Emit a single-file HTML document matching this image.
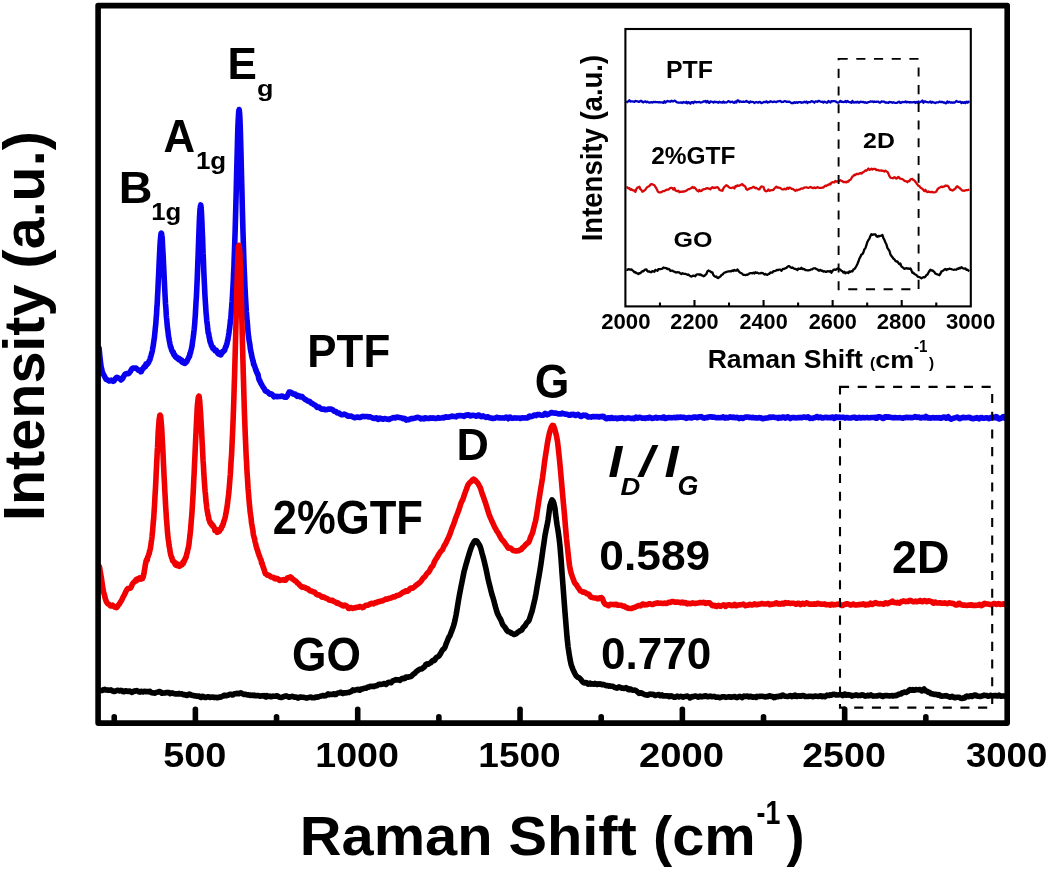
<!DOCTYPE html>
<html><head><meta charset="utf-8">
<style>
html,body{margin:0;padding:0;background:#fff;width:1050px;height:870px;overflow:hidden}
svg{display:block}
svg{will-change:transform}
text{font-family:"Liberation Sans",sans-serif;font-weight:bold;fill:#000}
</style></head>
<body>
<svg width="1050" height="870" viewBox="0 0 1050 870">
<rect x="0" y="0" width="1050" height="870" fill="#fff"/>
<!-- curves -->
<g fill="none" stroke-width="5.6" stroke-linejoin="round" stroke-linecap="round">
<path d="M99.10,348.13 L100.10,358.93 L101.10,366.71 L102.10,370.76 L103.10,373.89 L104.10,375.46 L105.10,377.45 L106.10,379.35 L107.10,379.71 L108.10,380.32 L109.10,381.01 L110.10,380.63 L111.10,380.19 L112.10,380.85 L113.10,381.35 L114.10,380.75 L115.10,379.11 L116.10,377.83 L117.10,377.23 L118.10,377.95 L119.10,378.21 L120.10,379.03 L121.10,379.97 L122.10,379.14 L123.10,377.64 L124.10,375.59 L125.10,374.14 L126.10,373.72 L127.10,373.44 L128.10,373.68 L129.10,373.20 L130.10,371.81 L131.10,370.15 L132.10,368.59 L133.10,368.13 L134.10,368.24 L135.10,368.01 L136.10,368.03 L137.10,369.11 L138.10,370.10 L139.10,370.53 L140.10,370.71 L140.30,370.59 L140.50,371.44 L140.70,371.68 L140.90,370.86 L141.10,370.79 L141.30,371.53 L141.50,371.31 L141.70,370.61 L141.90,370.42 L142.10,369.83 L142.30,369.07 L142.50,368.77 L142.70,368.75 L142.90,368.73 L143.10,368.74 L143.30,368.52 L143.50,368.02 L143.70,367.69 L143.90,367.05 L144.10,366.88 L144.30,367.03 L144.50,366.28 L144.70,366.06 L144.90,365.94 L145.10,365.98 L145.30,366.34 L145.50,366.53 L145.70,365.44 L145.90,364.12 L146.10,364.28 L146.30,364.66 L146.50,364.97 L146.70,364.87 L146.90,363.78 L147.10,363.41 L147.30,364.15 L147.50,364.12 L147.70,363.87 L147.90,363.48 L148.10,362.89 L148.30,362.72 L148.50,362.57 L148.70,362.20 L148.90,361.69 L149.10,360.97 L149.30,360.60 L149.50,360.38 L149.70,360.12 L149.90,359.95 L150.10,359.09 L150.30,358.01 L150.50,357.14 L150.70,356.77 L150.90,356.34 L151.10,355.40 L151.30,354.66 L151.50,353.81 L151.70,353.23 L151.90,352.44 L152.10,351.73 L152.30,351.08 L152.50,349.90 L152.70,348.39 L152.90,347.17 L153.10,346.63 L153.30,345.07 L153.50,343.48 L153.70,342.47 L153.90,340.71 L154.10,339.32 L154.30,338.48 L154.50,336.44 L154.70,334.54 L154.90,332.55 L155.10,330.48 L155.30,328.32 L155.50,326.52 L155.70,324.88 L155.90,322.09 L156.10,319.14 L156.30,316.86 L156.50,314.90 L156.70,310.88 L156.90,307.49 L157.10,305.30 L157.30,301.53 L157.50,296.98 L157.70,293.37 L157.90,289.76 L158.10,285.22 L158.30,280.69 L158.50,276.77 L158.70,273.07 L158.90,268.30 L159.10,263.82 L159.30,259.32 L159.50,255.18 L159.70,251.51 L159.90,247.38 L160.10,243.82 L160.30,241.04 L160.50,238.63 L160.70,236.34 L160.90,234.53 L161.10,233.36 L161.30,233.13 L161.50,233.43 L161.70,234.36 L161.90,235.72 L162.10,236.83 L162.30,239.91 L162.50,244.52 L162.70,247.81 L162.90,250.87 L163.10,254.72 L163.30,258.92 L163.50,263.28 L163.70,267.30 L163.90,271.47 L164.10,275.80 L164.30,280.25 L164.50,284.58 L164.70,288.62 L164.90,292.48 L165.10,296.30 L165.30,299.92 L165.50,303.64 L165.70,306.12 L165.90,308.20 L166.10,311.95 L166.30,315.66 L166.50,317.82 L166.70,319.41 L166.90,321.67 L167.10,324.21 L167.30,326.19 L167.50,327.86 L167.70,329.62 L167.90,330.66 L168.10,332.44 L168.30,334.50 L168.50,336.21 L168.70,337.33 L168.90,337.95 L169.10,339.33 L169.30,340.71 L169.50,341.66 L169.70,342.54 L169.90,343.75 L170.10,344.77 L170.30,345.84 L170.50,346.86 L170.70,347.20 L170.90,347.01 L171.10,347.65 L171.30,348.94 L171.50,349.60 L171.70,350.36 L171.90,350.50 L172.10,350.93 L172.30,351.36 L172.50,352.18 L172.70,352.36 L172.90,351.56 L173.10,351.84 L173.30,352.49 L173.50,353.01 L173.70,354.27 L173.90,354.84 L174.10,354.07 L174.30,354.82 L174.50,355.33 L174.70,354.83 L174.90,355.54 L175.10,356.38 L175.30,356.17 L175.50,356.63 L175.70,357.01 L175.90,357.27 L176.10,357.57 L176.30,357.71 L176.50,357.75 L176.70,357.00 L176.90,357.90 L177.10,358.26 L177.30,357.55 L177.50,357.65 L177.70,357.80 L177.90,358.27 L178.10,358.56 L178.30,358.86 L178.50,359.54 L178.70,359.45 L178.90,358.64 L179.10,358.46 L179.30,358.80 L179.50,358.81 L179.70,359.45 L179.90,359.98 L180.10,359.77 L180.30,360.07 L180.50,359.86 L180.70,359.72 L180.90,360.51 L181.10,361.11 L181.30,360.86 L181.35,361.27 L181.50,361.06 L181.55,360.39 L181.70,360.81 L181.75,360.05 L181.90,360.84 L181.95,361.90 L182.10,361.03 L182.15,361.60 L182.35,362.27 L182.55,361.89 L182.75,361.65 L182.95,361.69 L183.10,361.51 L183.15,361.77 L183.35,362.28 L183.55,362.20 L183.75,362.83 L183.95,362.99 L184.10,362.76 L184.15,362.78 L184.35,362.53 L184.55,362.76 L184.75,363.53 L184.95,363.51 L185.10,363.28 L185.15,362.74 L185.35,362.11 L185.55,361.83 L185.75,362.37 L185.95,362.58 L186.10,362.47 L186.15,362.24 L186.35,361.40 L186.55,361.43 L186.75,361.59 L186.95,361.29 L187.10,360.83 L187.15,360.74 L187.35,360.40 L187.55,359.70 L187.75,359.30 L187.95,359.23 L188.10,358.88 L188.15,359.00 L188.35,358.38 L188.55,357.75 L188.75,357.41 L188.95,357.08 L189.10,357.05 L189.15,356.47 L189.35,355.87 L189.55,356.28 L189.75,355.01 L189.95,353.44 L190.10,353.14 L190.15,353.15 L190.35,353.27 L190.55,352.63 L190.75,351.11 L190.95,350.49 L191.10,349.88 L191.15,349.83 L191.35,349.22 L191.55,348.36 L191.75,347.04 L191.95,346.51 L192.10,346.16 L192.15,345.11 L192.35,343.65 L192.55,341.95 L192.75,340.37 L192.95,339.17 L193.10,338.09 L193.15,337.85 L193.35,336.28 L193.55,334.73 L193.75,333.56 L193.95,331.27 L194.10,329.88 L194.15,329.52 L194.35,327.42 L194.55,325.41 L194.75,323.04 L194.95,320.07 L195.10,317.69 L195.15,317.80 L195.35,314.81 L195.55,310.67 L195.75,307.05 L195.95,303.52 L196.10,300.80 L196.15,300.56 L196.35,297.86 L196.55,293.84 L196.75,289.30 L196.95,284.95 L197.10,281.36 L197.15,280.15 L197.35,275.21 L197.55,270.32 L197.75,264.72 L197.95,259.47 L198.10,256.00 L198.15,254.22 L198.35,248.57 L198.55,242.78 L198.75,236.79 L198.95,231.65 L199.10,227.86 L199.15,226.40 L199.35,221.41 L199.55,216.99 L199.75,213.68 L199.95,210.05 L200.10,207.96 L200.15,207.98 L200.35,206.47 L200.55,205.96 L200.75,204.94 L200.95,205.95 L201.10,208.26 L201.15,208.61 L201.35,210.97 L201.55,214.55 L201.75,218.49 L201.95,223.23 L202.10,227.12 L202.15,228.46 L202.35,233.12 L202.55,237.16 L202.75,243.04 L202.95,249.31 L203.10,253.14 L203.15,253.70 L203.35,258.84 L203.55,264.69 L203.75,269.77 L203.95,274.32 L204.10,277.79 L204.15,278.65 L204.35,282.90 L204.55,286.89 L204.75,291.57 L204.95,295.58 L205.10,297.81 L205.15,298.49 L205.35,301.88 L205.55,304.70 L205.75,307.65 L205.95,310.97 L206.10,313.29 L206.15,313.50 L206.35,315.24 L206.55,318.03 L206.75,320.52 L206.95,322.24 L207.10,323.27 L207.15,323.16 L207.35,324.60 L207.55,327.07 L207.75,329.23 L207.95,330.42 L208.10,331.75 L208.15,332.74 L208.35,333.32 L208.55,333.15 L208.75,333.71 L208.95,335.28 L209.10,336.97 L209.15,337.56 L209.35,337.44 L209.55,338.14 L209.75,340.16 L209.95,340.88 L210.10,340.66 L210.15,341.63 L210.35,342.57 L210.55,342.39 L210.75,343.09 L210.95,343.82 L211.10,343.97 L211.15,344.49 L211.35,345.49 L211.55,345.85 L211.75,345.90 L211.95,346.42 L212.10,346.73 L212.15,346.61 L212.35,347.33 L212.55,347.79 L212.75,348.37 L212.95,348.56 L213.10,347.65 L213.15,347.20 L213.35,348.45 L213.55,348.97 L213.75,348.90 L213.95,348.95 L214.10,349.30 L214.15,349.51 L214.35,349.85 L214.55,349.98 L214.75,350.03 L214.95,350.57 L215.10,350.08 L215.15,350.25 L215.35,350.32 L215.55,349.82 L215.75,350.45 L215.95,350.61 L216.10,350.25 L216.15,350.37 L216.35,350.38 L216.55,351.01 L216.75,351.74 L216.95,351.61 L217.10,351.56 L217.15,351.80 L217.35,352.67 L217.55,353.07 L217.75,352.61 L217.95,352.84 L218.10,353.16 L218.15,352.91 L218.35,353.79 L218.55,353.94 L218.75,353.37 L218.95,353.02 L219.10,352.81 L219.15,353.62 L219.35,353.91 L219.55,353.96 L219.75,353.83 L219.95,353.42 L220.10,353.99 L220.15,354.70 L220.35,354.65 L220.55,354.52 L220.75,354.83 L220.95,354.71 L221.10,353.79 L221.15,353.40 L221.35,353.80 L221.55,353.59 L221.75,353.40 L221.95,352.88 L222.10,352.35 L222.15,352.99 L222.35,352.36 L222.55,351.64 L222.75,352.15 L222.95,351.72 L223.10,351.56 L223.15,351.80 L223.35,351.42 L223.55,351.32 L223.75,351.17 L223.95,350.75 L224.10,350.46 L224.15,350.36 L224.35,350.15 L224.55,350.50 L224.75,349.97 L224.95,349.04 L225.10,348.26 L225.15,348.31 L225.35,347.96 L225.55,346.95 L225.75,346.84 L225.95,346.58 L226.10,346.31 L226.15,346.56 L226.35,345.39 L226.55,344.29 L226.75,344.33 L226.95,343.85 L227.10,342.93 L227.15,342.84 L227.35,341.58 L227.55,340.49 L227.75,340.22 L227.95,339.58 L228.10,338.10 L228.15,337.23 L228.35,336.55 L228.55,335.41 L228.75,333.97 L228.95,333.03 L229.10,332.06 L229.15,330.92 L229.35,329.76 L229.55,328.74 L229.75,326.84 L229.95,324.84 L230.10,324.13 L230.15,323.48 L230.35,320.78 L230.55,319.50 L230.75,318.43 L230.95,316.82 L231.10,314.37 L231.15,313.31 L231.35,310.82 L231.55,308.69 L231.75,306.05 L231.95,302.86 L232.10,301.47 L232.15,300.68 L232.35,297.69 L232.55,294.16 L232.75,290.29 L232.95,287.14 L233.10,284.06 L233.15,283.23 L233.35,279.31 L233.55,273.95 L233.75,270.43 L233.95,266.30 L234.10,261.22 L234.15,259.24 L234.35,253.82 L234.55,248.43 L234.75,242.64 L234.95,236.65 L235.10,232.16 L235.15,230.42 L235.35,223.17 L235.55,216.16 L235.75,208.61 L235.95,200.89 L236.10,195.51 L236.15,193.87 L236.35,185.44 L236.55,176.87 L236.75,169.09 L236.95,161.92 L237.10,156.11 L237.15,154.38 L237.35,146.66 L237.55,139.03 L237.75,131.85 L237.95,125.61 L238.10,122.30 L238.15,121.42 L238.35,117.65 L238.55,114.03 L238.75,111.50 L238.95,110.36 L239.10,109.93 L239.15,109.62 L239.35,110.68 L239.55,112.56 L239.75,115.43 L239.95,119.65 L240.10,123.06 L240.15,124.24 L240.35,130.14 L240.55,137.30 L240.75,144.57 L240.95,151.58 L241.10,157.96 L241.15,160.50 L241.35,168.43 L241.55,176.75 L241.75,184.40 L241.95,191.65 L242.10,197.59 L242.15,200.60 L242.35,208.39 L242.55,215.88 L242.75,223.40 L242.95,230.38 L243.10,235.14 L243.15,237.07 L243.35,244.20 L243.55,250.37 L243.75,256.41 L243.95,262.06 L244.10,266.05 L244.15,267.36 L244.35,272.03 L244.55,276.32 L244.75,281.66 L244.95,286.38 L245.10,289.21 L245.15,290.18 L245.35,294.36 L245.55,297.96 L245.75,301.50 L245.95,304.75 L246.10,306.85 L246.15,308.25 L246.35,311.74 L246.55,313.93 L246.75,316.58 L246.95,319.18 L247.10,321.00 L247.15,321.33 L247.35,323.06 L247.55,325.73 L247.75,328.16 L247.95,330.80 L248.10,332.60 L248.15,333.12 L248.35,335.05 L248.55,336.20 L248.75,337.40 L248.95,339.44 L249.10,340.69 L249.15,340.67 L249.35,341.69 L249.55,343.11 L249.75,343.98 L249.95,345.16 L250.10,346.68 L250.15,347.36 L250.35,348.72 L250.55,349.53 L250.75,351.23 L250.95,352.06 L251.10,352.49 L251.15,352.47 L251.35,353.38 L251.55,355.09 L251.75,356.26 L251.95,356.72 L252.10,357.19 L252.15,357.80 L252.35,358.52 L252.55,359.28 L252.75,360.22 L252.95,361.06 L253.10,361.14 L253.15,360.80 L253.35,362.65 L253.55,364.36 L253.75,363.77 L253.95,363.96 L254.10,365.10 L254.15,365.35 L254.35,365.82 L254.55,365.89 L254.75,366.38 L254.95,367.11 L255.10,367.64 L255.15,367.85 L255.35,368.32 L255.55,369.29 L255.75,370.26 L255.95,370.08 L256.10,369.91 L256.15,370.17 L256.35,371.22 L256.55,371.95 L256.75,372.52 L256.95,372.86 L257.10,372.75 L257.15,372.59 L257.35,373.47 L257.55,374.28 L257.75,373.95 L257.95,374.52 L258.10,374.77 L258.15,375.13 L258.35,376.64 L258.55,377.48 L258.75,378.66 L258.95,379.18 L259.10,379.46 L259.15,379.82 L259.35,380.10 L259.55,379.85 L259.75,380.67 L259.95,381.60 L260.10,381.61 L260.15,381.46 L260.35,381.94 L260.55,382.76 L260.75,383.04 L261.10,383.56 L262.10,385.43 L263.10,387.17 L264.10,388.42 L265.10,390.55 L266.10,391.45 L267.10,391.48 L268.10,392.40 L269.10,393.48 L270.10,394.27 L271.10,393.88 L272.10,394.28 L273.10,395.67 L274.10,396.82 L275.10,396.62 L276.10,396.33 L277.10,396.80 L278.10,396.56 L279.10,396.48 L280.10,396.43 L281.10,396.19 L282.10,396.00 L283.10,396.60 L284.10,397.09 L285.10,397.25 L286.10,397.28 L287.10,396.17 L288.10,394.18 L289.10,392.10 L290.10,391.93 L291.10,392.49 L292.10,393.05 L293.10,394.06 L294.10,394.30 L295.10,393.97 L296.10,395.37 L297.10,396.32 L298.10,395.52 L299.10,395.84 L300.10,396.87 L301.10,396.38 L302.10,396.57 L303.10,397.68 L304.10,398.53 L305.10,399.42 L306.10,399.86 L307.10,400.58 L308.10,401.22 L309.10,401.35 L310.10,401.83 L311.10,402.99 L312.10,403.34 L313.10,404.00 L314.10,404.84 L315.10,405.10 L316.10,406.23 L317.10,407.36 L318.10,407.17 L319.10,407.08 L320.10,408.23 L321.10,408.72 L322.10,409.31 L323.10,409.04 L324.10,408.94 L325.10,409.73 L326.10,409.54 L327.10,409.65 L328.10,409.12 L329.10,409.02 L330.10,409.14 L331.10,409.04 L332.10,409.50 L333.10,410.11 L334.10,411.21 L335.10,411.26 L336.10,411.69 L337.10,412.72 L338.10,413.05 L339.10,413.13 L340.10,414.06 L341.10,414.60 L342.10,414.71 L343.10,414.65 L344.10,413.99 L345.10,414.40 L346.10,414.76 L347.10,415.71 L348.10,416.20 L349.10,416.09 L350.10,416.28 L351.10,416.15 L352.10,416.57 L353.10,417.12 L354.10,417.68 L355.10,417.72 L356.10,417.33 L357.10,417.01 L358.10,417.11 L359.10,417.49 L360.10,417.46 L361.10,417.06 L362.10,416.51 L363.10,416.40 L364.10,416.67 L365.10,416.57 L366.10,416.46 L367.10,416.50 L368.10,416.87 L369.10,416.91 L370.10,416.84 L371.10,417.30 L372.10,417.67 L373.10,418.23 L374.10,418.42 L375.10,418.34 L376.10,417.84 L377.10,418.02 L378.10,419.40 L379.10,419.07 L380.10,418.10 L381.10,418.37 L382.10,419.06 L383.10,419.29 L384.10,418.78 L385.10,418.54 L386.10,418.97 L387.10,419.12 L388.10,419.48 L389.10,419.48 L390.10,418.71 L391.10,418.47 L392.10,418.14 L393.10,417.52 L394.10,417.60 L395.10,417.99 L396.10,417.41 L397.10,417.03 L398.10,417.32 L399.10,417.57 L400.10,417.65 L401.10,417.86 L402.10,418.20 L403.10,418.68 L404.10,418.39 L405.10,418.86 L406.10,420.10 L407.10,419.73 L408.10,419.52 L409.10,419.62 L410.10,418.98 L411.10,418.57 L412.10,418.77 L413.10,418.52 L414.10,418.35 L415.10,418.08 L416.10,417.66 L417.10,417.40 L418.10,417.36 L419.10,417.62 L420.10,418.48 L421.10,418.91 L422.10,418.24 L423.10,418.45 L424.10,418.83 L425.10,417.75 L426.10,417.96 L427.10,418.42 L428.10,418.42 L429.10,418.57 L430.10,417.85 L431.10,418.25 L432.10,418.16 L433.10,417.77 L434.10,418.22 L435.10,418.47 L436.10,418.54 L437.10,418.22 L438.10,417.60 L439.10,418.12 L440.10,418.08 L441.10,417.93 L442.10,417.86 L443.10,417.54 L444.10,417.93 L445.10,417.11 L446.10,416.79 L447.10,417.28 L448.10,417.31 L449.10,416.93 L450.10,416.72 L451.10,416.58 L452.10,416.01 L453.10,416.38 L454.10,416.49 L455.10,416.53 L456.10,416.82 L457.10,416.00 L458.10,415.66 L459.10,415.78 L460.10,415.46 L461.10,415.64 L462.10,415.69 L463.10,415.98 L464.10,416.35 L465.10,415.47 L466.10,415.12 L467.10,415.28 L468.10,414.73 L469.10,415.07 L470.10,415.85 L471.10,415.83 L472.10,415.36 L473.10,415.40 L474.10,415.49 L475.10,415.49 L476.10,416.21 L477.10,416.05 L478.10,415.12 L479.10,415.10 L480.10,415.92 L481.10,416.59 L482.10,416.19 L483.10,415.91 L484.10,416.54 L485.10,416.93 L486.10,417.34 L487.10,417.08 L488.10,416.82 L489.10,417.62 L490.10,418.04 L491.10,418.00 L492.10,418.36 L493.10,418.35 L494.10,418.23 L495.10,418.15 L496.10,417.56 L497.10,417.24 L498.10,417.71 L499.10,418.06 L500.10,417.83 L501.10,417.99 L502.10,417.92 L503.10,417.85 L504.10,418.13 L505.10,417.83 L506.10,417.09 L507.10,417.83 L508.10,418.68 L509.10,417.34 L510.10,417.10 L511.10,418.10 L512.10,418.16 L513.10,418.22 L514.10,417.98 L515.10,417.85 L516.10,418.14 L517.10,418.03 L518.10,417.97 L519.10,418.09 L520.10,418.47 L521.10,418.23 L522.10,417.77 L523.10,417.93 L524.10,417.92 L525.10,417.86 L526.10,417.97 L527.10,418.08 L528.10,417.61 L529.10,416.24 L530.10,416.03 L531.10,416.66 L532.10,416.39 L533.10,416.00 L534.10,415.06 L535.10,415.07 L536.10,415.57 L537.10,414.75 L538.10,414.43 L539.10,414.51 L540.10,414.86 L541.10,415.18 L542.10,415.34 L543.10,415.23 L544.10,414.17 L545.10,413.37 L546.10,414.04 L547.10,414.88 L548.10,414.32 L549.10,413.88 L550.10,413.37 L551.10,412.47 L552.10,412.49 L553.10,412.94 L554.10,413.09 L555.10,413.09 L556.10,413.07 L557.10,413.36 L558.10,413.99 L559.10,413.82 L560.10,414.06 L561.10,413.91 L562.10,413.16 L563.10,413.59 L564.10,413.75 L565.10,414.12 L566.10,414.15 L567.10,414.32 L568.10,414.72 L569.10,415.26 L570.10,415.18 L571.10,414.41 L572.10,414.74 L573.10,414.22 L574.10,414.48 L575.10,415.45 L576.10,415.38 L577.10,414.81 L578.10,414.36 L579.10,415.14 L580.10,416.11 L581.10,416.52 L582.10,415.93 L583.10,415.16 L584.10,415.45 L585.10,415.22 L586.10,415.20 L587.10,416.20 L588.10,417.00 L589.10,416.89 L590.10,416.97 L591.10,417.08 L592.10,416.69 L593.10,416.57 L594.10,416.64 L595.10,416.69 L596.10,416.65 L597.10,416.59 L598.10,416.78 L599.10,417.07 L600.10,416.57 L601.10,416.55 L602.10,416.81 L603.10,416.30 L604.10,416.80 L605.10,418.04 L606.10,418.72 L607.10,418.79 L608.10,417.81 L609.10,417.75 L610.10,418.46 L611.10,417.50 L612.10,417.48 L613.10,418.38 L614.10,418.20 L615.10,418.14 L616.10,418.14 L617.10,418.61 L618.10,418.48 L619.10,417.90 L620.10,418.04 L621.10,418.19 L622.10,417.62 L623.10,417.98 L624.10,418.62 L625.10,418.35 L626.10,418.34 L627.10,418.09 L628.10,417.91 L629.10,418.00 L630.10,418.16 L631.10,418.49 L632.10,418.55 L633.10,418.13 L634.10,418.65 L635.10,418.28 L636.10,417.19 L637.10,417.71 L638.10,418.07 L639.10,417.37 L640.10,417.33 L641.10,417.67 L642.10,418.13 L643.10,418.15 L644.10,418.11 L645.10,418.45 L646.10,418.04 L647.10,417.88 L648.10,418.08 L649.10,417.31 L650.10,417.27 L651.10,417.89 L652.10,418.35 L653.10,418.24 L654.10,418.02 L655.10,417.41 L656.10,417.30 L657.10,418.19 L658.10,417.83 L659.10,417.69 L660.10,417.68 L661.10,417.84 L662.10,417.87 L663.10,417.15 L664.10,417.12 L665.10,418.41 L666.10,418.47 L667.10,417.83 L668.10,417.67 L669.10,417.62 L670.10,417.81 L671.10,417.65 L672.10,417.87 L673.10,417.64 L674.10,417.31 L675.10,417.76 L676.10,417.71 L677.10,417.14 L678.10,417.40 L679.10,417.47 L680.10,417.13 L681.10,417.17 L682.10,417.27 L683.10,417.40 L684.10,417.27 L685.10,417.62 L686.10,418.34 L687.10,418.00 L688.10,417.59 L689.10,417.59 L690.10,417.44 L691.10,417.92 L692.10,417.90 L693.10,417.27 L694.10,417.01 L695.10,417.07 L696.10,417.30 L697.10,417.78 L698.10,417.34 L699.10,416.72 L700.10,416.86 L701.10,416.63 L702.10,417.36 L703.10,417.92 L704.10,418.10 L705.10,417.65 L706.10,417.46 L707.10,417.69 L708.10,417.14 L709.10,417.05 L710.10,416.87 L711.10,416.76 L712.10,417.14 L713.10,417.14 L714.10,416.99 L715.10,417.42 L716.10,417.71 L717.10,417.75 L718.10,417.64 L719.10,417.77 L720.10,417.66 L721.10,417.61 L722.10,417.30 L723.10,416.93 L724.10,417.86 L725.10,418.11 L726.10,417.26 L727.10,417.72 L728.10,417.90 L729.10,417.24 L730.10,416.82 L731.10,417.28 L732.10,417.40 L733.10,416.97 L734.10,417.53 L735.10,417.77 L736.10,417.53 L737.10,417.40 L738.10,417.80 L739.10,418.59 L740.10,418.04 L741.10,417.51 L742.10,418.31 L743.10,418.47 L744.10,417.63 L745.10,417.14 L746.10,417.17 L747.10,417.01 L748.10,417.00 L749.10,417.38 L750.10,417.39 L751.10,417.59 L752.10,417.82 L753.10,417.41 L754.10,417.66 L755.10,417.89 L756.10,417.69 L757.10,417.92 L758.10,418.02 L759.10,417.65 L760.10,417.77 L761.10,417.90 L762.10,418.55 L763.10,418.80 L764.10,418.23 L765.10,418.29 L766.10,417.94 L767.10,417.95 L768.10,417.93 L769.10,417.24 L770.10,417.05 L771.10,417.49 L772.10,417.16 L773.10,417.06 L774.10,417.33 L775.10,417.50 L776.10,417.49 L777.10,417.86 L778.10,418.36 L779.10,417.34 L780.10,417.66 L781.10,418.00 L782.10,417.19 L783.10,416.93 L784.10,417.35 L785.10,418.17 L786.10,417.80 L787.10,416.99 L788.10,416.81 L789.10,417.62 L790.10,418.53 L791.10,417.93 L792.10,417.56 L793.10,417.67 L794.10,417.48 L795.10,417.79 L796.10,417.96 L797.10,417.75 L798.10,417.51 L799.10,417.67 L800.10,417.67 L801.10,417.42 L802.10,417.59 L803.10,417.18 L804.10,417.01 L805.10,417.30 L806.10,417.43 L807.10,417.17 L808.10,416.75 L809.10,417.64 L810.10,418.40 L811.10,418.16 L812.10,418.38 L813.10,418.23 L814.10,417.61 L815.10,417.63 L816.10,417.05 L817.10,416.53 L818.10,417.39 L819.10,417.76 L820.10,417.10 L821.10,417.30 L822.10,418.04 L823.10,418.04 L824.10,417.71 L825.10,417.22 L826.10,417.26 L827.10,417.67 L828.10,417.52 L829.10,417.58 L830.10,417.80 L831.10,417.71 L832.10,416.95 L833.10,417.19 L834.10,418.41 L835.10,417.93 L836.10,416.89 L837.10,417.23 L838.10,417.56 L839.10,417.04 L840.10,417.58 L841.10,417.45 L842.10,417.28 L843.10,417.33 L844.10,417.57 L845.10,418.14 L846.10,417.58 L847.10,417.46 L848.10,417.74 L849.10,417.96 L850.10,418.04 L851.10,417.94 L852.10,417.52 L853.10,417.56 L854.10,417.29 L855.10,417.40 L856.10,418.11 L857.10,418.23 L858.10,417.76 L859.10,417.37 L860.10,417.84 L861.10,417.88 L862.10,417.46 L863.10,417.46 L864.10,417.62 L865.10,417.84 L866.10,417.62 L867.10,417.41 L868.10,417.70 L869.10,417.84 L870.10,417.72 L871.10,417.52 L872.10,417.52 L873.10,417.49 L874.10,417.51 L875.10,417.40 L876.10,418.31 L877.10,418.14 L878.10,416.85 L879.10,416.86 L880.10,417.01 L881.10,417.27 L882.10,417.97 L883.10,418.51 L884.10,418.12 L885.10,416.77 L886.10,416.81 L887.10,417.20 L888.10,416.91 L889.10,416.96 L890.10,417.26 L891.10,417.43 L892.10,417.55 L893.10,417.90 L894.10,417.58 L895.10,417.45 L896.10,417.82 L897.10,417.68 L898.10,417.68 L899.10,417.79 L900.10,417.58 L901.10,417.85 L902.10,418.19 L903.10,418.10 L904.10,417.69 L905.10,417.75 L906.10,417.24 L907.10,417.53 L908.10,417.61 L909.10,417.37 L910.10,417.62 L911.10,417.49 L912.10,417.64 L913.10,417.57 L914.10,417.35 L915.10,416.55 L916.10,416.95 L917.10,417.46 L918.10,417.12 L919.10,417.08 L920.10,417.93 L921.10,417.98 L922.10,417.45 L923.10,417.26 L924.10,417.65 L925.10,417.85 L926.10,416.52 L927.10,417.58 L928.10,418.07 L929.10,417.62 L930.10,418.22 L931.10,418.01 L932.10,417.70 L933.10,417.55 L934.10,418.03 L935.10,417.87 L936.10,417.56 L937.10,417.96 L938.10,417.91 L939.10,417.48 L940.10,417.93 L941.10,418.18 L942.10,417.67 L943.10,417.31 L944.10,417.03 L945.10,417.58 L946.10,418.22 L947.10,417.23 L948.10,416.73 L949.10,417.75 L950.10,418.74 L951.10,419.13 L952.10,418.65 L953.10,418.40 L954.10,417.93 L955.10,417.74 L956.10,417.52 L957.10,417.09 L958.10,417.60 L959.10,418.49 L960.10,418.64 L961.10,418.03 L962.10,417.74 L963.10,417.23 L964.10,417.48 L965.10,417.80 L966.10,417.69 L967.10,417.52 L968.10,417.49 L969.10,417.29 L970.10,417.42 L971.10,418.35 L972.10,418.49 L973.10,418.75 L974.10,418.57 L975.10,418.05 L976.10,418.12 L977.10,417.68 L978.10,418.21 L979.10,418.83 L980.10,418.06 L981.10,417.45 L982.10,417.72 L983.10,418.30 L984.10,418.16 L985.10,417.95 L986.10,417.85 L987.10,417.80 L988.10,418.30 L989.10,418.76 L990.10,417.85 L991.10,417.45 L992.10,417.55 L993.10,417.08 L994.10,417.67 L995.10,417.83 L996.10,416.63 L997.10,417.12 L998.10,418.56 L999.10,419.02 L1000.10,418.48 L1001.10,418.30 L1002.10,417.58 L1003.10,416.78 L1004.10,417.81 L1005.10,418.31 L1006.10,418.57 L1007.00,418.74" stroke="#0a00f0"/>
<path d="M99.50,566.87 L100.50,572.99 L101.50,578.74 L102.50,586.09 L103.50,591.65 L104.50,595.20 L105.50,599.21 L106.50,601.97 L107.50,603.42 L108.50,604.08 L109.50,604.80 L110.50,605.95 L111.50,605.95 L112.50,605.22 L113.50,606.09 L114.50,607.00 L115.50,607.27 L116.50,607.68 L117.50,606.59 L118.50,605.01 L119.50,603.70 L120.50,602.05 L121.50,600.56 L122.50,598.36 L123.50,596.32 L124.50,594.55 L125.50,592.41 L126.50,590.33 L127.50,588.86 L128.50,588.38 L129.50,588.09 L130.50,588.11 L131.50,586.34 L132.50,583.75 L133.50,582.57 L134.50,581.69 L135.50,581.04 L135.60,580.26 L135.80,579.97 L136.00,580.28 L136.20,580.06 L136.40,580.01 L136.50,579.45 L136.60,579.70 L136.80,580.65 L137.00,579.87 L137.20,579.48 L137.40,579.50 L137.50,578.98 L137.60,578.94 L137.80,579.43 L138.00,579.18 L138.20,578.65 L138.40,578.65 L138.50,578.87 L138.60,579.28 L138.80,578.88 L139.00,578.59 L139.20,578.85 L139.40,578.08 L139.50,577.88 L139.60,578.44 L139.80,578.58 L140.00,578.75 L140.20,578.13 L140.40,578.07 L140.50,578.52 L140.60,578.05 L140.80,578.46 L141.00,579.17 L141.20,578.79 L141.40,578.81 L141.50,578.88 L141.60,578.61 L141.80,578.33 L142.00,578.75 L142.20,578.15 L142.40,577.49 L142.50,578.49 L142.60,577.77 L142.80,577.14 L143.00,577.25 L143.20,576.91 L143.40,576.54 L143.50,575.69 L143.60,574.37 L143.80,573.93 L144.00,573.67 L144.20,571.93 L144.40,570.45 L144.50,570.12 L144.60,569.58 L144.80,568.30 L145.00,567.36 L145.20,565.56 L145.40,564.32 L145.50,564.47 L145.60,563.55 L145.80,562.84 L146.00,561.29 L146.20,560.55 L146.40,560.83 L146.50,559.86 L146.60,559.67 L146.80,559.58 L147.00,559.90 L147.20,560.20 L147.40,559.09 L147.50,558.04 L147.60,557.49 L147.80,557.15 L148.00,556.66 L148.20,555.95 L148.40,555.39 L148.50,555.30 L148.60,555.02 L148.80,554.26 L149.00,553.45 L149.20,553.79 L149.40,552.85 L149.50,551.30 L149.60,551.50 L149.80,550.86 L150.00,549.93 L150.20,549.31 L150.40,548.52 L150.50,547.96 L150.60,546.66 L150.80,545.58 L151.00,544.05 L151.20,542.30 L151.40,541.26 L151.50,540.20 L151.60,539.77 L151.80,538.42 L152.00,536.82 L152.20,534.57 L152.40,532.57 L152.50,532.19 L152.60,530.92 L152.80,528.13 L153.00,525.72 L153.20,523.27 L153.40,520.15 L153.50,520.40 L153.60,520.04 L153.80,516.78 L154.00,513.42 L154.20,510.04 L154.40,507.25 L154.50,505.59 L154.60,503.71 L154.80,500.05 L155.00,495.86 L155.20,492.50 L155.40,489.57 L155.50,487.83 L155.60,485.68 L155.80,481.95 L156.00,477.90 L156.20,472.86 L156.40,469.18 L156.50,467.36 L156.60,464.57 L156.80,460.58 L157.00,457.05 L157.20,452.94 L157.40,448.76 L157.50,447.99 L157.60,446.10 L157.80,441.37 L158.00,436.70 L158.20,432.75 L158.40,430.28 L158.50,428.46 L158.60,426.41 L158.80,423.85 L159.00,421.54 L159.20,419.10 L159.40,417.84 L159.50,417.75 L159.60,416.87 L159.80,415.42 L160.00,415.06 L160.20,415.51 L160.40,416.04 L160.50,415.71 L160.60,415.93 L160.80,417.89 L161.00,420.00 L161.20,422.38 L161.40,424.97 L161.50,425.70 L161.60,426.70 L161.80,429.84 L162.00,434.07 L162.20,438.16 L162.40,441.58 L162.50,443.82 L162.60,445.53 L162.80,448.90 L163.00,453.03 L163.20,457.56 L163.40,462.42 L163.50,464.86 L163.60,466.15 L163.80,470.30 L164.00,475.06 L164.20,478.63 L164.40,482.42 L164.50,484.17 L164.60,486.28 L164.80,490.67 L165.00,493.91 L165.20,497.47 L165.40,501.55 L165.50,503.33 L165.60,505.06 L165.80,508.74 L166.00,511.58 L166.20,514.37 L166.40,518.28 L166.50,519.85 L166.60,520.28 L166.80,522.95 L167.00,525.36 L167.20,528.15 L167.40,531.03 L167.50,532.13 L167.60,533.39 L167.80,535.25 L168.00,537.25 L168.20,539.05 L168.40,540.28 L168.50,540.73 L168.60,541.62 L168.80,542.70 L169.00,544.90 L169.20,546.53 L169.40,547.21 L169.50,547.95 L169.60,547.92 L169.80,549.45 L170.00,551.07 L170.20,552.04 L170.40,553.24 L170.50,553.54 L170.60,553.91 L170.80,555.09 L171.00,555.61 L171.20,556.07 L171.40,557.01 L171.50,557.43 L171.60,557.61 L171.80,557.41 L172.00,557.91 L172.20,559.31 L172.40,559.72 L172.50,559.93 L172.60,560.80 L172.80,561.13 L173.00,561.12 L173.20,561.18 L173.40,561.02 L173.50,561.30 L173.60,561.40 L173.80,561.85 L174.00,562.16 L174.10,562.23 L174.20,562.20 L174.30,561.84 L174.40,562.21 L174.50,562.51 L174.60,562.63 L174.70,562.89 L174.80,563.09 L174.90,563.72 L175.00,564.37 L175.10,564.36 L175.20,563.90 L175.30,564.23 L175.40,563.94 L175.50,562.88 L175.60,563.54 L175.70,564.27 L175.80,564.21 L175.90,564.29 L176.00,563.87 L176.10,563.55 L176.20,564.54 L176.30,565.31 L176.40,564.73 L176.50,565.08 L176.60,565.02 L176.70,564.26 L176.80,564.75 L176.90,564.59 L177.00,564.38 L177.10,564.75 L177.20,564.82 L177.30,565.19 L177.40,565.54 L177.50,564.94 L177.60,564.55 L177.70,564.99 L177.80,565.22 L177.90,564.93 L178.00,565.11 L178.10,565.64 L178.20,565.32 L178.30,565.32 L178.40,565.01 L178.50,564.25 L178.60,564.94 L178.70,565.20 L178.80,564.72 L178.90,564.91 L179.00,565.01 L179.10,565.20 L179.20,564.94 L179.30,564.71 L179.40,566.19 L179.50,566.33 L179.60,564.68 L179.70,564.82 L179.80,565.59 L179.90,565.82 L180.00,565.66 L180.10,564.97 L180.20,565.34 L180.30,565.75 L180.40,564.67 L180.50,564.63 L180.60,565.09 L180.70,565.16 L180.80,565.05 L180.90,564.89 L181.00,565.01 L181.10,564.88 L181.20,564.74 L181.30,564.35 L181.40,564.30 L181.50,564.56 L181.60,564.59 L181.70,564.82 L181.80,564.74 L181.90,564.33 L182.00,564.77 L182.10,564.49 L182.20,563.88 L182.30,563.56 L182.40,563.29 L182.50,563.90 L182.60,563.87 L182.70,563.68 L182.80,563.12 L182.90,562.07 L183.00,562.38 L183.10,562.25 L183.20,562.87 L183.30,563.57 L183.40,562.16 L183.50,561.55 L183.60,561.61 L183.70,561.64 L183.80,561.64 L183.90,561.64 L184.00,561.95 L184.10,561.40 L184.20,560.37 L184.30,560.43 L184.40,560.56 L184.50,560.55 L184.70,560.15 L184.90,559.61 L185.10,559.31 L185.30,558.50 L185.50,557.75 L185.70,557.51 L185.90,557.91 L186.10,557.36 L186.30,555.88 L186.50,555.18 L186.70,554.57 L186.90,553.20 L187.10,552.49 L187.30,552.59 L187.50,551.53 L187.70,549.76 L187.90,549.06 L188.10,548.99 L188.30,548.06 L188.50,546.66 L188.70,545.89 L188.90,544.81 L189.10,542.94 L189.30,540.92 L189.50,539.22 L189.70,537.66 L189.90,536.20 L190.10,534.16 L190.30,532.50 L190.50,530.84 L190.70,528.11 L190.90,526.12 L191.10,523.26 L191.30,520.29 L191.50,518.19 L191.70,516.04 L191.90,513.28 L192.10,510.55 L192.30,507.50 L192.50,504.02 L192.70,500.61 L192.90,497.37 L193.10,493.95 L193.30,490.05 L193.50,486.16 L193.70,481.72 L193.90,477.77 L194.10,474.34 L194.30,469.86 L194.50,464.71 L194.70,460.56 L194.90,456.88 L195.10,452.17 L195.30,447.25 L195.50,443.17 L195.70,438.78 L195.90,434.40 L196.10,430.56 L196.30,426.26 L196.50,421.78 L196.70,418.12 L196.90,414.45 L197.10,410.47 L197.30,407.02 L197.50,404.16 L197.70,402.65 L197.90,400.94 L198.10,398.86 L198.30,397.89 L198.50,396.64 L198.70,396.30 L198.90,396.58 L199.10,396.30 L199.30,397.45 L199.50,399.23 L199.70,401.03 L199.90,403.69 L200.10,407.06 L200.30,409.61 L200.50,411.89 L200.70,415.46 L200.90,419.05 L201.10,422.49 L201.30,425.81 L201.50,429.37 L201.70,433.52 L201.90,437.35 L202.10,441.09 L202.30,444.94 L202.50,449.36 L202.70,453.07 L202.90,457.05 L203.10,461.00 L203.30,463.60 L203.50,466.87 L203.70,470.82 L203.90,474.78 L204.10,477.39 L204.30,480.18 L204.50,483.30 L204.70,485.89 L204.90,488.63 L205.10,491.48 L205.30,493.21 L205.50,494.53 L205.70,497.37 L205.90,500.11 L206.10,502.19 L206.30,503.47 L206.50,504.64 L206.70,507.29 L206.90,508.68 L207.10,509.70 L207.30,511.17 L207.50,512.14 L207.70,513.09 L207.90,514.65 L208.10,515.46 L208.30,515.59 L208.50,516.75 L208.70,518.29 L208.90,519.39 L209.10,519.89 L209.30,520.39 L209.50,520.81 L209.70,521.48 L209.90,522.37 L210.10,522.73 L210.30,522.15 L210.50,522.80 L210.70,523.64 L210.90,523.21 L211.10,523.41 L211.30,523.70 L211.50,524.67 L211.70,525.09 L211.90,523.96 L212.10,524.35 L212.30,524.92 L212.50,525.47 L212.70,526.05 L212.90,525.36 L213.10,525.49 L213.30,526.06 L213.50,526.34 L213.70,526.87 L213.90,526.85 L214.10,527.52 L214.30,528.28 L214.50,528.31 L214.70,529.22 L214.90,530.48 L215.10,530.38 L215.30,530.67 L215.50,530.50 L215.70,530.35 L215.90,531.04 L216.10,531.01 L216.30,530.99 L216.50,530.89 L216.70,531.13 L216.90,531.23 L217.10,531.46 L217.30,532.31 L217.50,531.95 L217.70,531.11 L217.90,530.70 L218.10,529.87 L218.30,530.80 L218.50,531.09 L218.70,530.29 L218.90,530.60 L219.10,530.99 L219.30,530.93 L219.50,531.07 L219.70,530.72 L219.90,529.32 L220.10,529.21 L220.30,529.60 L220.50,529.04 L220.70,528.62 L220.90,528.41 L221.10,528.76 L221.30,528.43 L221.50,527.07 L221.70,526.99 L221.90,526.46 L222.10,526.10 L222.30,526.39 L222.50,525.52 L222.70,524.73 L222.90,524.30 L223.10,524.48 L223.30,524.24 L223.50,522.75 L223.70,521.61 L223.90,521.33 L224.10,521.05 L224.30,520.13 L224.50,519.49 L224.70,518.90 L224.90,518.35 L225.10,517.71 L225.30,516.45 L225.50,515.43 L225.70,514.21 L225.90,513.44 L226.10,512.80 L226.30,511.27 L226.50,510.03 L226.70,508.79 L226.90,508.29 L227.10,507.00 L227.30,504.99 L227.50,503.81 L227.70,501.88 L227.90,500.19 L228.10,498.69 L228.30,497.05 L228.50,495.43 L228.70,493.71 L228.90,491.90 L229.10,489.45 L229.30,486.87 L229.50,484.54 L229.70,482.06 L229.90,479.20 L230.10,477.07 L230.30,474.88 L230.50,471.76 L230.70,468.26 L230.90,464.72 L231.10,461.16 L231.30,458.17 L231.50,455.60 L231.70,452.06 L231.90,447.87 L232.10,443.20 L232.30,438.91 L232.50,434.74 L232.70,430.25 L232.90,425.56 L233.10,420.10 L233.30,414.47 L233.50,409.18 L233.70,403.52 L233.90,397.19 L234.10,390.06 L234.30,383.40 L234.50,377.65 L234.70,370.98 L234.90,363.90 L235.10,356.44 L235.30,348.70 L235.50,341.48 L235.70,334.00 L235.90,326.13 L236.10,318.52 L236.30,311.12 L236.50,303.62 L236.70,295.22 L236.90,287.41 L237.10,280.95 L237.30,274.49 L237.50,268.04 L237.70,263.09 L237.90,258.44 L238.10,253.90 L238.30,250.05 L238.50,247.27 L238.70,246.25 L238.90,245.29 L239.10,245.69 L239.30,247.75 L239.50,249.11 L239.70,250.81 L239.90,255.22 L240.10,260.00 L240.30,264.36 L240.50,269.41 L240.70,275.95 L240.90,283.10 L241.10,290.42 L241.30,297.44 L241.50,304.49 L241.70,312.44 L241.90,320.30 L242.10,328.65 L242.30,336.90 L242.50,344.20 L242.70,351.66 L242.90,359.42 L243.10,367.21 L243.30,374.53 L243.50,380.98 L243.70,387.83 L243.90,394.85 L244.10,401.72 L244.30,408.38 L244.50,414.50 L244.70,419.99 L244.90,424.96 L245.10,430.36 L245.30,435.59 L245.50,440.11 L245.70,444.97 L245.90,449.81 L246.10,454.32 L246.30,458.03 L246.50,461.18 L246.70,465.43 L246.90,469.29 L247.10,472.93 L247.30,476.22 L247.50,478.90 L247.70,481.73 L247.90,485.52 L248.10,488.76 L248.30,490.77 L248.50,493.34 L248.70,495.77 L248.90,498.59 L249.10,500.99 L249.30,502.91 L249.50,505.38 L249.70,506.98 L249.90,508.91 L250.10,511.74 L250.30,512.74 L250.50,514.06 L250.70,515.77 L250.90,516.63 L251.10,518.33 L251.30,520.69 L251.50,522.67 L251.70,523.79 L251.90,524.62 L252.10,525.91 L252.30,527.24 L252.50,528.41 L252.70,529.05 L252.90,530.33 L253.10,532.19 L253.30,534.06 L253.50,535.37 L253.70,535.65 L253.90,536.44 L254.10,537.56 L254.30,538.25 L254.50,538.39 L254.70,539.27 L254.90,540.73 L255.10,541.85 L255.30,542.51 L255.50,542.98 L255.70,543.91 L255.90,544.98 L256.10,546.00 L256.30,546.63 L256.50,547.30 L256.70,547.75 L256.90,548.56 L257.10,549.53 L257.30,549.48 L257.50,550.06 L257.70,551.16 L257.90,551.51 L258.10,552.32 L258.30,553.15 L258.50,553.64 L258.70,554.00 L258.90,554.52 L259.10,555.63 L259.30,555.93 L259.50,556.17 L259.70,556.66 L259.90,557.35 L260.10,558.06 L260.30,558.65 L260.50,559.17 L260.70,559.17 L260.90,559.34 L261.10,560.20 L261.30,561.37 L261.50,562.86 L261.70,563.61 L261.90,563.30 L262.10,562.99 L262.30,563.97 L262.50,565.25 L262.70,565.31 L262.90,566.21 L263.10,567.20 L263.30,567.38 L263.50,567.33 L263.70,568.35 L263.90,569.55 L264.10,569.69 L264.30,569.87 L264.50,570.33 L264.70,571.51 L264.90,572.25 L265.10,572.91 L265.30,573.47 L265.50,573.29 L266.50,574.48 L267.50,575.19 L268.50,575.13 L269.50,575.51 L270.50,576.64 L271.50,577.04 L272.50,577.22 L273.50,577.52 L274.50,578.60 L275.50,578.91 L276.50,578.32 L277.50,578.72 L278.50,579.60 L279.50,580.46 L280.50,580.14 L281.50,580.07 L282.50,579.88 L283.50,579.49 L284.50,580.31 L285.50,580.25 L286.50,579.02 L287.50,577.95 L288.50,577.60 L289.50,577.45 L290.50,576.84 L291.50,577.68 L292.50,579.04 L293.50,579.58 L294.50,580.53 L295.50,580.84 L296.50,581.93 L297.50,583.07 L298.50,583.64 L299.50,584.93 L300.50,585.81 L301.50,586.92 L302.50,587.29 L303.50,587.10 L304.50,587.20 L305.50,587.97 L306.50,588.60 L307.50,588.62 L308.50,589.35 L309.50,590.52 L310.50,590.99 L311.50,590.93 L312.50,591.57 L313.50,591.99 L314.50,591.93 L315.50,593.27 L316.50,594.31 L317.50,594.94 L318.50,594.84 L319.50,595.00 L320.50,595.87 L321.50,596.85 L322.50,597.30 L323.50,596.74 L324.50,597.40 L325.50,598.05 L326.50,598.21 L327.50,598.88 L328.50,599.69 L329.50,600.11 L330.50,600.44 L331.50,600.35 L332.50,600.41 L333.50,601.25 L334.50,601.58 L335.50,602.35 L336.50,603.07 L337.50,602.66 L338.50,603.39 L339.50,604.03 L340.50,604.48 L341.50,605.00 L342.50,605.66 L343.50,605.96 L344.50,605.17 L345.50,605.28 L346.50,605.89 L347.50,606.96 L348.50,608.39 L349.50,608.37 L350.50,607.48 L351.50,607.79 L352.50,608.34 L353.50,607.94 L354.50,607.84 L355.50,607.85 L356.50,607.20 L357.50,607.27 L358.50,607.31 L359.50,606.60 L360.50,606.51 L361.50,607.14 L362.50,607.67 L363.50,607.40 L364.50,606.38 L365.50,605.33 L366.50,605.32 L367.50,605.30 L368.50,604.92 L369.50,604.28 L370.50,603.61 L371.50,603.30 L372.50,603.50 L373.50,603.85 L374.50,603.06 L375.50,602.59 L376.50,602.72 L377.50,601.99 L378.50,601.50 L379.50,601.71 L380.50,601.08 L381.50,600.93 L382.50,600.90 L383.50,600.22 L384.50,599.91 L385.50,599.11 L386.50,598.98 L387.50,599.14 L388.50,598.57 L389.50,598.17 L390.50,598.09 L391.50,597.76 L392.50,597.10 L393.50,596.81 L394.50,596.85 L395.50,596.46 L396.50,595.58 L397.50,595.44 L398.50,595.19 L399.50,594.70 L400.50,594.31 L401.50,593.38 L402.50,592.56 L403.50,592.10 L404.50,591.95 L405.50,591.02 L406.50,590.71 L407.50,591.28 L408.50,590.54 L409.50,589.27 L410.50,588.24 L411.50,588.07 L412.50,588.12 L413.50,587.41 L414.50,586.83 L415.50,585.88 L416.50,584.82 L417.50,584.35 L418.50,583.51 L419.50,582.65 L420.50,581.90 L421.50,580.60 L422.50,579.02 L423.50,577.71 L424.50,577.16 L425.50,575.75 L426.50,574.13 L427.50,572.87 L428.50,572.25 L429.50,570.90 L430.50,568.78 L431.50,566.99 L432.50,566.08 L433.50,564.19 L434.50,561.52 L435.50,559.82 L436.50,558.32 L437.50,556.76 L438.50,554.85 L439.50,553.25 L440.50,551.76 L441.50,550.70 L442.50,549.72 L443.50,547.26 L444.50,545.10 L445.50,544.01 L446.50,541.68 L447.50,539.52 L448.50,537.58 L449.50,535.20 L450.50,532.49 L451.50,529.60 L452.50,526.80 L453.50,524.53 L454.50,521.65 L455.50,518.54 L456.50,516.05 L457.50,513.52 L458.50,510.85 L459.50,507.93 L460.50,504.40 L461.50,501.96 L462.50,500.17 L463.50,497.43 L464.50,494.36 L465.50,491.59 L466.50,489.02 L467.50,486.11 L468.50,484.13 L469.50,482.86 L470.50,482.00 L471.50,481.21 L472.50,479.90 L473.50,479.19 L474.50,479.60 L475.50,480.44 L476.50,481.87 L477.50,482.79 L478.50,484.31 L479.50,486.22 L480.50,488.08 L481.50,491.57 L482.50,494.64 L483.50,497.06 L484.50,500.12 L485.50,503.03 L486.50,506.07 L487.50,509.50 L488.50,512.72 L489.50,515.65 L490.50,517.92 L491.50,520.28 L492.50,522.45 L493.50,524.62 L494.50,526.78 L495.50,528.58 L496.50,530.57 L497.50,532.04 L498.50,533.50 L499.50,535.34 L500.50,537.22 L501.50,539.05 L502.50,540.27 L503.50,541.10 L504.50,542.54 L505.50,544.06 L506.50,545.45 L507.50,546.96 L508.50,548.29 L509.50,548.14 L510.50,547.94 L511.50,548.98 L512.50,549.89 L513.50,550.59 L514.50,550.73 L515.50,551.05 L516.50,551.02 L517.50,550.68 L518.50,550.77 L519.50,550.14 L520.50,549.99 L521.50,549.37 L522.50,547.71 L523.50,547.20 L524.50,546.06 L525.50,544.78 L526.50,543.97 L527.50,542.96 L528.50,542.38 L529.50,540.42 L530.50,537.28 L531.50,535.16 L532.50,532.94 L533.50,528.99 L534.50,524.79 L535.50,521.15 L536.50,516.06 L537.50,509.44 L538.50,502.90 L539.50,496.44 L540.50,490.22 L541.50,484.09 L542.50,477.99 L543.50,470.65 L544.50,462.21 L545.50,455.55 L546.50,449.40 L547.50,442.79 L548.50,437.27 L549.50,432.83 L550.50,429.44 L551.50,426.77 L552.50,425.29 L553.50,425.66 L554.50,428.22 L555.50,431.90 L556.50,435.91 L557.50,441.54 L558.50,450.11 L559.50,459.67 L560.50,470.31 L561.50,481.85 L562.50,493.30 L563.50,504.18 L564.50,514.70 L565.50,527.23 L566.50,538.70 L567.50,547.72 L568.50,557.24 L569.50,565.45 L570.50,570.78 L571.50,574.38 L572.50,577.18 L573.50,579.74 L574.50,582.59 L575.50,583.90 L576.50,584.95 L577.50,586.74 L578.50,588.00 L579.50,589.65 L580.50,590.96 L581.50,591.32 L582.50,591.94 L583.50,592.23 L584.50,592.10 L585.50,592.79 L586.50,593.55 L587.50,593.95 L588.50,594.06 L589.50,595.05 L590.50,596.81 L591.50,597.37 L592.50,597.56 L593.50,597.81 L594.50,597.94 L595.50,597.97 L596.50,597.97 L597.50,598.69 L598.50,598.72 L599.50,597.91 L600.50,597.95 L601.50,597.60 L602.50,598.61 L603.50,601.54 L604.50,603.28 L605.50,604.50 L606.50,604.59 L607.50,605.31 L608.50,605.75 L609.50,604.73 L610.50,604.26 L611.50,604.57 L612.50,604.54 L613.50,604.50 L614.50,604.76 L615.50,604.18 L616.50,604.23 L617.50,605.24 L618.50,605.27 L619.50,605.17 L620.50,605.23 L621.50,605.26 L622.50,605.96 L623.50,606.30 L624.50,606.14 L625.50,607.11 L626.50,607.79 L627.50,607.89 L628.50,608.33 L629.50,608.46 L630.50,608.57 L631.50,608.46 L632.50,607.96 L633.50,607.78 L634.50,607.44 L635.50,606.95 L636.50,606.50 L637.50,606.05 L638.50,605.63 L639.50,605.73 L640.50,605.84 L641.50,604.94 L642.50,604.11 L643.50,603.99 L644.50,604.86 L645.50,604.77 L646.50,604.56 L647.50,604.60 L648.50,604.08 L649.50,603.72 L650.50,603.83 L651.50,604.42 L652.50,604.50 L653.50,604.26 L654.50,603.61 L655.50,603.40 L656.50,603.29 L657.50,602.91 L658.50,603.33 L659.50,603.18 L660.50,603.14 L661.50,603.30 L662.50,603.52 L663.50,603.49 L664.50,603.10 L665.50,603.39 L666.50,603.34 L667.50,603.15 L668.50,602.34 L669.50,602.36 L670.50,602.34 L671.50,601.79 L672.50,601.49 L673.50,601.57 L674.50,602.13 L675.50,602.15 L676.50,602.07 L677.50,602.13 L678.50,602.27 L679.50,602.32 L680.50,602.90 L681.50,602.34 L682.50,602.15 L683.50,602.89 L684.50,602.50 L685.50,602.49 L686.50,603.53 L687.50,603.86 L688.50,603.28 L689.50,603.45 L690.50,603.78 L691.50,603.14 L692.50,602.90 L693.50,603.27 L694.50,603.35 L695.50,603.41 L696.50,603.33 L697.50,603.15 L698.50,602.89 L699.50,602.66 L700.50,602.57 L701.50,602.77 L702.50,602.81 L703.50,602.38 L704.50,602.60 L705.50,603.52 L706.50,603.20 L707.50,602.81 L708.50,602.81 L709.50,602.84 L710.50,603.83 L711.50,604.73 L712.50,605.72 L713.50,605.71 L714.50,605.38 L715.50,606.05 L716.50,606.44 L717.50,605.73 L718.50,605.30 L719.50,605.89 L720.50,606.27 L721.50,605.63 L722.50,605.33 L723.50,604.90 L724.50,605.09 L725.50,606.35 L726.50,605.64 L727.50,604.98 L728.50,604.85 L729.50,604.74 L730.50,605.34 L731.50,605.64 L732.50,605.56 L733.50,604.89 L734.50,604.46 L735.50,605.47 L736.50,605.78 L737.50,605.01 L738.50,604.98 L739.50,604.89 L740.50,604.83 L741.50,604.74 L742.50,604.44 L743.50,604.15 L744.50,604.90 L745.50,605.60 L746.50,605.21 L747.50,605.23 L748.50,604.95 L749.50,604.29 L750.50,604.46 L751.50,604.99 L752.50,604.96 L753.50,604.58 L754.50,603.88 L755.50,604.22 L756.50,604.79 L757.50,604.48 L758.50,604.23 L759.50,604.16 L760.50,604.01 L761.50,603.54 L762.50,603.64 L763.50,603.93 L764.50,604.02 L765.50,604.02 L766.50,603.96 L767.50,603.63 L768.50,603.64 L769.50,604.66 L770.50,604.44 L771.50,603.94 L772.50,604.21 L773.50,604.08 L774.50,603.84 L775.50,603.19 L776.50,602.82 L777.50,603.78 L778.50,604.08 L779.50,603.62 L780.50,604.15 L781.50,603.51 L782.50,603.20 L783.50,603.94 L784.50,602.95 L785.50,602.52 L786.50,603.27 L787.50,603.24 L788.50,602.84 L789.50,603.26 L790.50,603.44 L791.50,603.30 L792.50,603.31 L793.50,603.30 L794.50,603.46 L795.50,604.14 L796.50,604.19 L797.50,603.27 L798.50,603.28 L799.50,603.61 L800.50,604.58 L801.50,604.06 L802.50,603.25 L803.50,603.82 L804.50,604.12 L805.50,603.74 L806.50,602.88 L807.50,603.36 L808.50,604.07 L809.50,604.13 L810.50,604.10 L811.50,603.98 L812.50,604.14 L813.50,604.24 L814.50,603.79 L815.50,604.26 L816.50,604.19 L817.50,603.23 L818.50,603.42 L819.50,603.93 L820.50,604.08 L821.50,604.06 L822.50,604.24 L823.50,604.26 L824.50,603.89 L825.50,604.48 L826.50,604.73 L827.50,604.66 L828.50,604.80 L829.50,604.63 L830.50,605.09 L831.50,604.35 L832.50,604.23 L833.50,604.86 L834.50,604.79 L835.50,604.63 L836.50,604.36 L837.50,604.45 L838.50,604.10 L839.50,604.13 L840.50,605.06 L841.50,605.50 L842.50,605.36 L843.50,604.88 L844.50,604.37 L845.50,604.30 L846.50,603.70 L847.50,603.76 L848.50,604.18 L849.50,604.54 L850.50,605.08 L851.50,604.94 L852.50,604.36 L853.50,604.02 L854.50,604.74 L855.50,605.04 L856.50,604.93 L857.50,604.68 L858.50,604.67 L859.50,604.71 L860.50,604.24 L861.50,604.43 L862.50,604.34 L863.50,603.87 L864.50,604.52 L865.50,605.09 L866.50,604.48 L867.50,604.22 L868.50,604.70 L869.50,604.50 L870.50,603.32 L871.50,604.17 L872.50,604.43 L873.50,603.50 L874.50,603.22 L875.50,602.61 L876.50,603.36 L877.50,603.60 L878.50,603.64 L879.50,603.95 L880.50,603.64 L881.50,603.83 L882.50,604.03 L883.50,604.21 L884.50,603.49 L885.50,602.75 L886.50,603.33 L887.50,603.72 L888.50,603.23 L889.50,602.48 L890.50,602.54 L891.50,601.85 L892.50,601.19 L893.50,602.40 L894.50,602.41 L895.50,602.59 L896.50,602.94 L897.50,602.27 L898.50,603.02 L899.50,603.15 L900.50,602.10 L901.50,601.56 L902.50,601.39 L903.50,600.84 L904.50,601.10 L905.50,601.71 L906.50,601.31 L907.50,601.53 L908.50,601.50 L909.50,600.60 L910.50,600.39 L911.50,600.90 L912.50,601.32 L913.50,601.90 L914.50,601.64 L915.50,601.18 L916.50,601.61 L917.50,601.62 L918.50,601.36 L919.50,600.78 L920.50,600.54 L921.50,601.59 L922.50,601.75 L923.50,601.03 L924.50,600.59 L925.50,600.68 L926.50,601.63 L927.50,601.43 L928.50,600.72 L929.50,601.07 L930.50,601.41 L931.50,601.44 L932.50,602.53 L933.50,603.20 L934.50,602.23 L935.50,602.11 L936.50,602.96 L937.50,602.96 L938.50,602.99 L939.50,602.78 L940.50,602.74 L941.50,603.14 L942.50,603.20 L943.50,603.24 L944.50,602.88 L945.50,603.07 L946.50,603.48 L947.50,603.61 L948.50,603.07 L949.50,602.76 L950.50,603.19 L951.50,603.33 L952.50,603.38 L953.50,603.60 L954.50,604.28 L955.50,604.95 L956.50,605.03 L957.50,604.80 L958.50,603.53 L959.50,603.30 L960.50,604.68 L961.50,604.75 L962.50,605.08 L963.50,605.30 L964.50,605.12 L965.50,605.30 L966.50,605.44 L967.50,605.19 L968.50,605.06 L969.50,605.28 L970.50,605.02 L971.50,604.75 L972.50,605.37 L973.50,605.47 L974.50,605.30 L975.50,605.51 L976.50,605.31 L977.50,605.23 L978.50,604.93 L979.50,604.41 L980.50,605.15 L981.50,605.77 L982.50,605.12 L983.50,603.97 L984.50,603.34 L985.50,603.75 L986.50,603.98 L987.50,603.97 L988.50,604.11 L989.50,604.36 L990.50,604.42 L991.50,604.75 L992.50,604.23 L993.50,603.67 L994.50,603.65 L995.50,604.12 L996.50,604.39 L997.50,604.00 L998.50,603.64 L999.50,603.91 L1000.50,604.34 L1001.50,604.29 L1002.50,604.21 L1003.50,603.75 L1004.50,604.31 L1005.50,604.82 L1005.60,604.50" stroke="#f00000"/>
<path d="M101.00,690.37 L102.00,690.58 L103.00,690.12 L104.00,689.46 L105.00,689.41 L106.00,689.96 L107.00,690.09 L108.00,690.08 L109.00,690.16 L110.00,690.27 L111.00,689.93 L112.00,690.43 L113.00,691.19 L114.00,691.51 L115.00,691.31 L116.00,690.70 L117.00,690.57 L118.00,690.26 L119.00,690.80 L120.00,690.99 L121.00,690.36 L122.00,690.69 L123.00,691.59 L124.00,691.78 L125.00,691.03 L126.00,690.77 L127.00,691.34 L128.00,691.55 L129.00,691.15 L130.00,691.17 L131.00,691.69 L132.00,692.42 L133.00,691.83 L134.00,691.04 L135.00,691.21 L136.00,690.68 L137.00,690.67 L138.00,691.15 L139.00,691.83 L140.00,692.14 L141.00,691.30 L142.00,691.58 L143.00,692.02 L144.00,691.29 L145.00,691.25 L146.00,691.65 L147.00,691.59 L148.00,691.82 L149.00,691.42 L150.00,691.36 L151.00,692.42 L152.00,692.81 L153.00,692.87 L154.00,692.98 L155.00,693.13 L156.00,692.45 L157.00,692.28 L158.00,692.07 L159.00,691.64 L160.00,691.65 L161.00,692.21 L162.00,693.27 L163.00,692.91 L164.00,693.08 L165.00,692.97 L166.00,692.49 L167.00,692.79 L168.00,692.45 L169.00,692.59 L170.00,693.59 L171.00,693.18 L172.00,692.91 L173.00,693.26 L174.00,693.63 L175.00,693.94 L176.00,693.71 L177.00,693.88 L178.00,693.88 L179.00,693.38 L180.00,693.90 L181.00,694.06 L182.00,693.85 L183.00,694.64 L184.00,694.46 L185.00,694.48 L186.00,695.27 L187.00,695.38 L188.00,694.88 L189.00,694.11 L190.00,694.22 L191.00,695.08 L192.00,695.35 L193.00,695.34 L194.00,695.72 L195.00,695.93 L196.00,695.86 L197.00,696.35 L198.00,696.20 L199.00,695.98 L200.00,697.03 L201.00,697.49 L202.00,696.48 L203.00,696.27 L204.00,696.94 L205.00,697.44 L206.00,697.38 L207.00,696.89 L208.00,696.68 L209.00,697.12 L210.00,697.50 L211.00,697.19 L212.00,697.07 L213.00,697.14 L214.00,697.46 L215.00,697.39 L216.00,697.33 L217.00,697.82 L218.00,697.76 L219.00,697.09 L220.00,697.15 L221.00,696.96 L222.00,696.41 L223.00,696.13 L224.00,695.21 L225.00,695.33 L226.00,695.77 L227.00,695.46 L228.00,695.23 L229.00,694.83 L230.00,694.29 L231.00,694.22 L232.00,694.86 L233.00,694.98 L234.00,694.05 L235.00,693.83 L236.00,693.73 L237.00,693.34 L238.00,693.73 L239.00,693.72 L240.00,692.96 L241.00,692.90 L242.00,693.56 L243.00,694.00 L244.00,694.50 L245.00,694.38 L246.00,694.37 L247.00,694.89 L248.00,694.78 L249.00,695.07 L250.00,695.43 L251.00,695.04 L252.00,695.37 L253.00,695.37 L254.00,695.15 L255.00,695.62 L256.00,695.80 L257.00,695.63 L258.00,695.55 L259.00,695.79 L260.00,696.17 L261.00,696.02 L262.00,695.78 L263.00,696.00 L264.00,695.61 L265.00,696.59 L266.00,697.02 L267.00,695.75 L268.00,696.26 L269.00,696.43 L270.00,696.14 L271.00,696.79 L272.00,696.50 L273.00,696.13 L274.00,696.20 L275.00,696.32 L276.00,696.01 L277.00,695.69 L278.00,696.19 L279.00,696.94 L280.00,697.22 L281.00,697.46 L282.00,697.51 L283.00,696.83 L284.00,696.60 L285.00,696.14 L286.00,695.90 L287.00,696.25 L288.00,696.67 L289.00,697.23 L290.00,696.99 L291.00,696.62 L292.00,696.34 L293.00,696.51 L294.00,697.10 L295.00,697.31 L296.00,697.00 L297.00,697.51 L298.00,698.16 L299.00,697.52 L300.00,696.99 L301.00,696.94 L302.00,697.17 L303.00,697.28 L304.00,697.40 L305.00,697.66 L306.00,697.95 L307.00,698.08 L308.00,697.62 L309.00,697.38 L310.00,697.30 L311.00,696.99 L312.00,697.70 L313.00,697.70 L314.00,697.66 L315.00,697.60 L316.00,696.94 L317.00,697.26 L318.00,697.04 L319.00,696.65 L320.00,696.39 L321.00,695.93 L322.00,695.75 L323.00,695.50 L324.00,695.86 L325.00,695.80 L326.00,695.62 L327.00,694.62 L328.00,693.87 L329.00,694.71 L330.00,694.42 L331.00,694.42 L332.00,694.55 L333.00,693.96 L334.00,693.75 L335.00,694.58 L336.00,694.38 L337.00,693.44 L338.00,693.08 L339.00,692.88 L340.00,692.48 L341.00,692.23 L342.00,693.28 L343.00,693.53 L344.00,692.81 L345.00,692.68 L346.00,692.92 L347.00,692.61 L348.00,692.51 L349.00,692.50 L350.00,691.73 L351.00,691.76 L352.00,690.78 L353.00,689.87 L354.00,690.51 L355.00,690.19 L356.00,689.84 L357.00,689.69 L358.00,689.29 L359.00,690.10 L360.00,690.26 L361.00,689.12 L362.00,689.08 L363.00,688.76 L364.00,688.36 L365.00,688.29 L366.00,688.27 L367.00,687.46 L368.00,686.95 L369.00,687.20 L370.00,686.37 L371.00,686.46 L372.00,686.35 L373.00,686.33 L374.00,686.58 L375.00,686.10 L376.00,685.77 L377.00,685.64 L378.00,684.82 L379.00,684.34 L380.00,684.51 L381.00,684.33 L382.00,684.27 L383.00,684.11 L384.00,683.59 L385.00,683.71 L386.00,684.43 L387.00,683.50 L388.00,682.48 L389.00,682.36 L390.00,682.49 L391.00,682.73 L392.00,681.70 L393.00,680.65 L394.00,680.46 L395.00,680.06 L396.00,679.64 L397.00,679.88 L398.00,679.79 L399.00,679.92 L400.00,680.33 L401.00,679.27 L402.00,678.40 L403.00,678.26 L404.00,678.74 L405.00,678.37 L406.00,677.14 L407.00,677.05 L408.00,677.29 L409.00,676.71 L410.00,676.70 L411.00,676.52 L412.00,675.59 L413.00,674.60 L414.00,673.74 L415.00,673.22 L416.00,671.75 L417.00,671.11 L418.00,670.48 L419.00,669.63 L420.00,669.02 L421.00,668.99 L422.00,668.88 L423.00,667.83 L424.00,667.35 L425.00,665.98 L426.00,664.29 L427.00,663.92 L428.00,664.25 L429.00,663.70 L430.00,662.97 L431.00,662.55 L432.00,661.15 L433.00,660.31 L434.00,660.77 L435.00,659.84 L436.00,657.87 L437.00,657.19 L438.00,656.78 L439.00,655.88 L440.00,654.41 L441.00,652.81 L442.00,650.83 L443.00,649.41 L444.00,648.83 L445.00,647.07 L446.00,644.10 L447.00,641.74 L448.00,639.18 L449.00,636.98 L450.00,635.58 L451.00,632.66 L452.00,630.11 L453.00,627.53 L454.00,624.34 L455.00,620.25 L456.00,615.27 L457.00,609.46 L458.00,603.23 L459.00,597.40 L460.00,591.94 L461.00,586.72 L462.00,581.95 L463.00,576.84 L464.00,571.85 L465.00,568.21 L466.00,564.55 L467.00,561.15 L468.00,557.58 L469.00,554.36 L470.00,551.06 L471.00,548.02 L472.00,545.63 L473.00,543.59 L474.00,541.84 L475.00,540.73 L476.00,540.73 L477.00,541.26 L478.00,542.95 L479.00,544.37 L480.00,546.21 L481.00,549.15 L482.00,553.00 L483.00,556.45 L484.00,560.34 L485.00,564.72 L486.00,568.87 L487.00,573.78 L488.00,578.66 L489.00,582.83 L490.00,586.71 L491.00,590.91 L492.00,594.79 L493.00,597.67 L494.00,601.16 L495.00,605.29 L496.00,608.72 L497.00,612.15 L498.00,614.67 L499.00,616.52 L500.00,618.27 L501.00,620.32 L502.00,622.82 L503.00,625.05 L504.00,626.22 L505.00,627.37 L506.00,629.13 L507.00,630.65 L508.00,631.47 L509.00,631.64 L510.00,632.17 L511.00,632.89 L512.00,633.37 L513.00,633.95 L514.00,634.44 L515.00,634.18 L516.00,633.85 L517.00,632.98 L518.00,632.14 L519.00,631.51 L520.00,630.72 L521.00,630.53 L522.00,629.73 L523.00,627.82 L524.00,626.68 L525.00,625.82 L526.00,624.05 L527.00,622.49 L528.00,621.59 L529.00,620.42 L530.00,617.46 L531.00,614.27 L532.00,611.44 L533.00,607.09 L534.00,602.82 L535.00,598.62 L536.00,593.48 L537.00,587.40 L538.00,581.46 L539.00,576.08 L540.00,570.04 L541.00,563.64 L542.00,556.27 L543.00,549.13 L544.00,542.57 L545.00,535.48 L546.00,530.34 L547.00,525.71 L548.00,520.16 L549.00,512.78 L550.00,505.66 L551.00,502.25 L552.00,499.86 L553.00,500.87 L554.00,503.74 L555.00,508.63 L556.00,517.46 L557.00,524.49 L558.00,530.24 L559.00,537.29 L560.00,546.31 L561.00,558.34 L562.00,572.52 L563.00,585.71 L564.00,599.23 L565.00,612.45 L566.00,624.61 L567.00,636.89 L568.00,646.33 L569.00,653.05 L570.00,659.15 L571.00,664.03 L572.00,667.08 L573.00,669.62 L574.00,671.67 L575.00,673.74 L576.00,675.57 L577.00,676.65 L578.00,677.29 L579.00,677.62 L580.00,678.61 L581.00,679.69 L582.00,680.90 L583.00,682.17 L584.00,682.81 L585.00,683.03 L586.00,682.50 L587.00,683.04 L588.00,684.11 L589.00,683.43 L590.00,683.16 L591.00,684.07 L592.00,683.74 L593.00,683.96 L594.00,684.24 L595.00,683.38 L596.00,683.97 L597.00,684.46 L598.00,683.88 L599.00,684.13 L600.00,683.81 L601.00,684.21 L602.00,684.71 L603.00,684.40 L604.00,684.73 L605.00,684.99 L606.00,685.63 L607.00,685.48 L608.00,685.70 L609.00,686.13 L610.00,685.91 L611.00,686.18 L612.00,686.32 L613.00,686.36 L614.00,687.17 L615.00,687.55 L616.00,687.77 L617.00,688.09 L618.00,687.53 L619.00,686.91 L620.00,687.13 L621.00,687.92 L622.00,688.24 L623.00,688.00 L624.00,688.42 L625.00,688.24 L626.00,687.63 L627.00,688.34 L628.00,689.56 L629.00,689.79 L630.00,688.93 L631.00,689.16 L632.00,689.89 L633.00,690.25 L634.00,690.23 L635.00,690.05 L636.00,690.64 L637.00,691.47 L638.00,692.39 L639.00,693.39 L640.00,693.11 L641.00,692.72 L642.00,693.34 L643.00,693.79 L644.00,694.27 L645.00,694.74 L646.00,694.82 L647.00,695.20 L648.00,695.16 L649.00,694.48 L650.00,694.11 L651.00,694.18 L652.00,694.40 L653.00,694.19 L654.00,694.78 L655.00,695.48 L656.00,695.19 L657.00,694.89 L658.00,694.57 L659.00,694.61 L660.00,695.74 L661.00,695.39 L662.00,694.90 L663.00,695.90 L664.00,695.97 L665.00,695.71 L666.00,695.99 L667.00,695.83 L668.00,695.85 L669.00,696.74 L670.00,696.32 L671.00,695.70 L672.00,696.15 L673.00,696.80 L674.00,697.25 L675.00,697.21 L676.00,696.63 L677.00,696.10 L678.00,696.41 L679.00,696.90 L680.00,696.48 L681.00,696.36 L682.00,696.80 L683.00,697.09 L684.00,696.65 L685.00,696.47 L686.00,696.38 L687.00,696.04 L688.00,696.35 L689.00,696.93 L690.00,697.97 L691.00,697.53 L692.00,696.60 L693.00,696.81 L694.00,696.19 L695.00,696.08 L696.00,696.10 L697.00,696.35 L698.00,697.19 L699.00,696.82 L700.00,696.10 L701.00,696.48 L702.00,696.82 L703.00,696.34 L704.00,696.46 L705.00,695.90 L706.00,695.87 L707.00,696.76 L708.00,696.76 L709.00,696.52 L710.00,696.15 L711.00,696.34 L712.00,696.74 L713.00,696.58 L714.00,696.38 L715.00,696.68 L716.00,697.30 L717.00,697.19 L718.00,697.11 L719.00,697.45 L720.00,697.70 L721.00,697.39 L722.00,696.85 L723.00,696.68 L724.00,696.78 L725.00,697.11 L726.00,697.42 L727.00,697.13 L728.00,696.90 L729.00,696.73 L730.00,697.08 L731.00,697.28 L732.00,696.99 L733.00,696.88 L734.00,696.66 L735.00,696.67 L736.00,697.29 L737.00,697.61 L738.00,697.00 L739.00,696.57 L740.00,696.42 L741.00,696.88 L742.00,697.58 L743.00,696.93 L744.00,696.09 L745.00,696.46 L746.00,696.53 L747.00,696.04 L748.00,696.22 L749.00,696.96 L750.00,696.43 L751.00,696.23 L752.00,697.01 L753.00,697.23 L754.00,696.76 L755.00,697.15 L756.00,697.44 L757.00,696.42 L758.00,696.53 L759.00,696.41 L760.00,696.36 L761.00,696.29 L762.00,696.23 L763.00,696.43 L764.00,696.51 L765.00,696.91 L766.00,696.68 L767.00,696.44 L768.00,696.63 L769.00,696.03 L770.00,695.81 L771.00,696.50 L772.00,696.53 L773.00,696.65 L774.00,697.64 L775.00,697.41 L776.00,696.49 L777.00,696.50 L778.00,696.75 L779.00,696.06 L780.00,696.10 L781.00,696.52 L782.00,695.27 L783.00,695.14 L784.00,695.80 L785.00,696.21 L786.00,696.25 L787.00,696.44 L788.00,696.45 L789.00,696.17 L790.00,695.50 L791.00,695.68 L792.00,696.67 L793.00,696.39 L794.00,695.47 L795.00,695.18 L796.00,696.31 L797.00,696.54 L798.00,695.80 L799.00,695.73 L800.00,696.16 L801.00,696.23 L802.00,695.74 L803.00,695.45 L804.00,695.69 L805.00,696.48 L806.00,696.47 L807.00,696.43 L808.00,696.54 L809.00,696.30 L810.00,696.30 L811.00,696.27 L812.00,696.54 L813.00,696.68 L814.00,696.17 L815.00,696.06 L816.00,696.22 L817.00,696.33 L818.00,696.41 L819.00,696.39 L820.00,695.86 L821.00,695.85 L822.00,696.74 L823.00,696.17 L824.00,696.20 L825.00,696.64 L826.00,695.96 L827.00,695.17 L828.00,695.44 L829.00,695.56 L830.00,694.91 L831.00,695.24 L832.00,694.94 L833.00,694.33 L834.00,694.18 L835.00,694.38 L836.00,694.87 L837.00,695.01 L838.00,694.96 L839.00,694.74 L840.00,694.68 L841.00,694.60 L842.00,695.22 L843.00,695.55 L844.00,694.34 L845.00,693.99 L846.00,695.17 L847.00,695.13 L848.00,694.54 L849.00,695.15 L850.00,694.99 L851.00,695.25 L852.00,696.17 L853.00,695.61 L854.00,695.47 L855.00,695.48 L856.00,694.82 L857.00,695.20 L858.00,695.61 L859.00,695.37 L860.00,695.58 L861.00,695.32 L862.00,694.80 L863.00,694.94 L864.00,695.47 L865.00,696.09 L866.00,696.07 L867.00,695.42 L868.00,695.27 L869.00,695.83 L870.00,695.29 L871.00,694.90 L872.00,695.62 L873.00,696.11 L874.00,696.00 L875.00,695.95 L876.00,695.97 L877.00,695.85 L878.00,695.71 L879.00,695.39 L880.00,695.35 L881.00,695.49 L882.00,696.31 L883.00,696.52 L884.00,695.78 L885.00,695.62 L886.00,695.59 L887.00,695.58 L888.00,695.79 L889.00,695.86 L890.00,695.95 L891.00,695.74 L892.00,695.59 L893.00,696.09 L894.00,695.61 L895.00,695.39 L896.00,695.74 L897.00,695.37 L898.00,694.83 L899.00,693.97 L900.00,694.07 L901.00,693.92 L902.00,692.74 L903.00,692.85 L904.00,692.33 L905.00,692.09 L906.00,692.43 L907.00,691.93 L908.00,691.35 L909.00,690.41 L910.00,689.53 L911.00,690.09 L912.00,690.31 L913.00,689.54 L914.00,690.14 L915.00,690.11 L916.00,689.56 L917.00,689.73 L918.00,689.82 L919.00,689.64 L920.00,689.59 L921.00,690.42 L922.00,690.95 L923.00,689.72 L924.00,688.98 L925.00,690.20 L926.00,691.08 L927.00,691.26 L928.00,692.10 L929.00,692.14 L930.00,692.66 L931.00,693.67 L932.00,693.77 L933.00,694.05 L934.00,694.38 L935.00,694.43 L936.00,694.19 L937.00,694.71 L938.00,695.12 L939.00,694.64 L940.00,695.18 L941.00,696.11 L942.00,696.30 L943.00,696.09 L944.00,695.90 L945.00,695.91 L946.00,695.65 L947.00,695.96 L948.00,696.49 L949.00,696.43 L950.00,697.12 L951.00,696.98 L952.00,696.30 L953.00,696.74 L954.00,697.55 L955.00,697.81 L956.00,697.41 L957.00,697.31 L958.00,697.25 L959.00,697.18 L960.00,697.79 L961.00,698.41 L962.00,698.38 L963.00,697.88 L964.00,698.19 L965.00,697.87 L966.00,696.17 L967.00,696.11 L968.00,696.53 L969.00,696.60 L970.00,695.99 L971.00,695.75 L972.00,696.48 L973.00,695.97 L974.00,695.20 L975.00,694.93 L976.00,695.24 L977.00,696.05 L978.00,696.21 L979.00,696.21 L980.00,696.41 L981.00,696.19 L982.00,696.04 L983.00,695.70 L984.00,695.15 L985.00,695.53 L986.00,695.52 L987.00,695.62 L988.00,696.32 L989.00,696.26 L990.00,695.59 L991.00,695.23 L992.00,695.90 L993.00,695.88 L994.00,695.48 L995.00,695.65 L996.00,695.63 L997.00,696.06 L998.00,695.88 L999.00,695.08 L1000.00,695.71 L1001.00,696.23 L1002.00,696.00 L1003.00,695.92 L1004.00,695.94 L1005.00,696.35" stroke="#000"/>
</g>
<!-- main dashed box -->
<rect x="840" y="386.9" width="152.2" height="320.7" fill="none" stroke="#000" stroke-width="2.1" stroke-dasharray="9.1 8.6"/>
<!-- frame -->
<g stroke="#000" stroke-width="5.6" stroke-linecap="round" fill="none">
<rect x="98.1" y="5.6" width="909.1" height="717.5" stroke-linejoin="round"/>
<line x1="114.23" y1="721" x2="114.23" y2="716.8"/>
<line x1="195.39" y1="721" x2="195.39" y2="709.3"/>
<line x1="276.55" y1="721" x2="276.55" y2="716.8"/>
<line x1="357.71" y1="721" x2="357.71" y2="709.3"/>
<line x1="438.88" y1="721" x2="438.88" y2="716.8"/>
<line x1="520.04" y1="721" x2="520.04" y2="709.3"/>
<line x1="601.20" y1="721" x2="601.20" y2="716.8"/>
<line x1="682.36" y1="721" x2="682.36" y2="709.3"/>
<line x1="763.52" y1="721" x2="763.52" y2="716.8"/>
<line x1="844.68" y1="721" x2="844.68" y2="709.3"/>
<line x1="925.84" y1="721" x2="925.84" y2="716.8"/>
</g>
<!-- INSET -->
<rect x="625.4" y="29" width="345.4" height="277.4" fill="#fff" stroke="none"/>
<g fill="none" stroke-width="2.3" stroke-linejoin="round">
<path d="M626.40,269.66 L627.40,269.91 L628.40,269.26 L629.40,269.36 L630.40,269.75 L631.40,269.43 L632.40,270.35 L633.40,270.98 L634.40,272.32 L635.40,272.12 L636.40,273.06 L637.40,273.27 L638.40,274.07 L639.40,273.26 L640.40,273.15 L641.40,272.07 L642.40,271.16 L643.40,271.40 L644.40,270.12 L645.40,269.59 L646.40,269.36 L647.40,271.04 L648.40,271.71 L649.40,271.40 L650.40,272.13 L651.40,272.23 L652.40,271.09 L653.40,271.40 L654.40,271.79 L655.40,269.89 L656.40,270.47 L657.40,270.76 L658.40,269.25 L659.40,269.04 L660.40,269.07 L661.40,268.93 L662.40,268.62 L663.40,267.51 L664.40,267.75 L665.40,268.17 L666.40,268.14 L667.40,269.16 L668.40,268.90 L669.40,269.38 L670.40,270.99 L671.40,270.59 L672.40,270.63 L673.40,271.48 L674.40,271.64 L675.40,272.32 L676.40,272.39 L677.40,272.19 L678.40,272.33 L679.40,272.43 L680.40,273.50 L681.40,274.00 L682.40,273.20 L683.40,273.72 L684.40,273.91 L685.40,273.87 L686.40,274.30 L687.40,274.77 L688.40,274.49 L689.40,275.40 L690.40,276.23 L691.40,276.54 L692.40,275.93 L693.40,275.66 L694.40,275.88 L695.40,276.26 L696.40,274.52 L697.40,274.34 L698.40,274.34 L699.40,274.77 L700.40,274.33 L701.40,275.40 L702.40,275.31 L703.40,276.28 L704.40,275.89 L705.40,274.94 L706.40,273.99 L707.40,271.41 L708.40,270.46 L709.40,271.00 L710.40,271.56 L711.40,272.26 L712.40,272.34 L713.40,275.06 L714.40,276.11 L715.40,276.75 L716.40,276.51 L717.40,277.85 L718.40,278.01 L719.40,276.92 L720.40,276.69 L721.40,275.01 L722.40,274.65 L723.40,273.50 L724.40,272.60 L725.40,272.43 L726.40,271.79 L727.40,271.63 L728.40,271.39 L729.40,271.35 L730.40,271.21 L731.40,271.23 L732.40,270.40 L733.40,271.02 L734.40,269.87 L735.40,270.69 L736.40,270.65 L737.40,269.49 L738.40,270.74 L739.40,272.10 L740.40,272.68 L741.40,273.17 L742.40,273.97 L743.40,274.91 L744.40,274.97 L745.40,275.20 L746.40,274.70 L747.40,274.83 L748.40,274.32 L749.40,273.47 L750.40,273.06 L751.40,273.05 L752.40,273.32 L753.40,272.60 L754.40,273.43 L755.40,272.29 L756.40,272.94 L757.40,272.68 L758.40,273.35 L759.40,273.35 L760.40,273.30 L761.40,272.88 L762.40,273.17 L763.40,273.47 L764.40,274.50 L765.40,273.94 L766.40,274.66 L767.40,274.94 L768.40,273.98 L769.40,273.79 L770.40,272.45 L771.40,272.68 L772.40,272.52 L773.40,271.05 L774.40,271.07 L775.40,270.82 L776.40,270.36 L777.40,269.84 L778.40,270.07 L779.40,269.56 L780.40,269.61 L781.40,270.86 L782.40,269.32 L783.40,268.90 L784.40,268.80 L785.40,268.27 L786.40,267.91 L787.40,266.69 L788.40,266.25 L789.40,266.25 L790.40,267.31 L791.40,267.87 L792.40,267.51 L793.40,268.18 L794.40,268.93 L795.40,268.89 L796.40,269.34 L797.40,269.97 L798.40,268.53 L799.40,268.81 L800.40,268.89 L801.40,267.83 L802.40,269.11 L803.40,268.94 L804.40,269.10 L805.40,270.22 L806.40,270.22 L807.40,270.36 L808.40,270.32 L809.40,270.05 L810.40,269.77 L811.40,269.36 L812.40,269.28 L813.40,268.35 L814.40,268.44 L815.40,268.27 L816.40,269.08 L817.40,269.35 L818.40,270.54 L819.40,270.50 L820.40,269.83 L821.40,270.74 L822.40,270.74 L823.40,271.55 L824.40,271.23 L825.40,271.74 L826.40,271.77 L827.40,271.15 L828.40,271.35 L829.40,271.50 L830.40,270.84 L831.40,272.77 L832.40,271.09 L833.40,269.89 L834.40,269.48 L835.40,269.90 L836.40,269.38 L837.40,268.63 L838.40,268.47 L839.40,269.46 L840.40,269.70 L841.40,270.78 L842.40,271.28 L843.40,272.59 L844.40,271.76 L845.40,273.26 L846.40,272.59 L847.40,272.39 L848.40,273.06 L849.40,271.34 L850.40,271.81 L851.40,271.20 L852.40,271.43 L853.40,269.40 L854.40,269.12 L855.40,267.76 L856.40,265.96 L857.40,264.02 L858.40,261.54 L859.40,258.56 L860.40,256.97 L861.40,254.48 L862.40,254.11 L863.40,252.32 L864.40,249.21 L865.40,248.20 L866.40,245.07 L867.40,241.95 L868.40,240.06 L869.40,238.55 L870.40,236.00 L871.40,234.17 L872.40,234.92 L873.40,234.49 L874.40,234.35 L875.40,234.41 L876.40,236.22 L877.40,236.77 L878.40,235.97 L879.40,236.29 L880.40,235.82 L881.40,235.50 L882.40,234.96 L883.40,238.17 L884.40,239.90 L885.40,242.50 L886.40,244.26 L887.40,247.88 L888.40,249.52 L889.40,250.73 L890.40,254.35 L891.40,256.00 L892.40,257.11 L893.40,258.72 L894.40,259.25 L895.40,260.83 L896.40,261.52 L897.40,261.30 L898.40,263.09 L899.40,264.22 L900.40,263.56 L901.40,266.44 L902.40,267.11 L903.40,268.02 L904.40,268.91 L905.40,268.47 L906.40,268.08 L907.40,268.68 L908.40,268.42 L909.40,268.94 L910.40,268.37 L911.40,270.34 L912.40,272.88 L913.40,272.72 L914.40,273.93 L915.40,274.51 L916.40,275.02 L917.40,276.31 L918.40,276.91 L919.40,277.03 L920.40,277.64 L921.40,278.38 L922.40,277.65 L923.40,277.20 L924.40,277.44 L925.40,276.55 L926.40,275.02 L927.40,274.62 L928.40,272.70 L929.40,271.06 L930.40,269.81 L931.40,270.48 L932.40,270.35 L933.40,271.33 L934.40,271.95 L935.40,273.72 L936.40,273.96 L937.40,274.40 L938.40,274.80 L939.40,275.22 L940.40,273.70 L941.40,271.42 L942.40,271.14 L943.40,270.37 L944.40,269.58 L945.40,269.02 L946.40,269.96 L947.40,269.22 L948.40,269.09 L949.40,268.70 L950.40,268.97 L951.40,269.16 L952.40,269.50 L953.40,269.76 L954.40,269.54 L955.40,269.53 L956.40,269.55 L957.40,268.74 L958.40,268.89 L959.40,267.88 L960.40,268.36 L961.40,267.14 L962.40,267.99 L963.40,268.60 L964.40,268.67 L965.40,268.38 L966.40,269.75 L967.40,269.73 L968.40,270.57 L969.40,271.14" stroke="#000"/>
<path d="M626.40,187.21 L627.40,187.41 L628.40,188.47 L629.40,188.17 L630.40,189.71 L631.40,189.14 L632.40,190.23 L633.40,190.51 L634.40,190.41 L635.40,191.90 L636.40,188.95 L637.40,187.66 L638.40,187.19 L639.40,186.78 L640.40,189.20 L641.40,190.03 L642.40,191.72 L643.40,191.29 L644.40,190.39 L645.40,189.77 L646.40,188.00 L647.40,187.05 L648.40,186.57 L649.40,185.92 L650.40,184.73 L651.40,184.04 L652.40,184.37 L653.40,184.79 L654.40,185.28 L655.40,186.80 L656.40,188.43 L657.40,190.52 L658.40,192.13 L659.40,192.33 L660.40,192.27 L661.40,192.16 L662.40,191.35 L663.40,191.09 L664.40,191.03 L665.40,190.35 L666.40,189.93 L667.40,189.59 L668.40,189.68 L669.40,188.73 L670.40,188.06 L671.40,187.75 L672.40,188.08 L673.40,189.65 L674.40,188.03 L675.40,190.41 L676.40,190.81 L677.40,191.34 L678.40,190.65 L679.40,192.27 L680.40,191.93 L681.40,191.58 L682.40,191.75 L683.40,191.38 L684.40,191.49 L685.40,190.89 L686.40,190.72 L687.40,189.82 L688.40,189.12 L689.40,189.02 L690.40,188.51 L691.40,187.97 L692.40,186.92 L693.40,187.96 L694.40,187.39 L695.40,188.31 L696.40,189.69 L697.40,190.74 L698.40,191.42 L699.40,189.97 L700.40,191.15 L701.40,190.94 L702.40,189.70 L703.40,189.50 L704.40,189.07 L705.40,188.87 L706.40,188.39 L707.40,188.10 L708.40,188.63 L709.40,188.72 L710.40,189.28 L711.40,187.90 L712.40,187.26 L713.40,188.04 L714.40,187.56 L715.40,187.75 L716.40,187.33 L717.40,187.12 L718.40,188.08 L719.40,189.70 L720.40,190.37 L721.40,190.34 L722.40,190.80 L723.40,188.30 L724.40,186.91 L725.40,186.02 L726.40,185.27 L727.40,185.72 L728.40,186.84 L729.40,187.42 L730.40,187.88 L731.40,188.03 L732.40,187.70 L733.40,187.39 L734.40,188.43 L735.40,186.14 L736.40,186.56 L737.40,185.35 L738.40,185.94 L739.40,185.64 L740.40,185.09 L741.40,184.47 L742.40,184.09 L743.40,185.51 L744.40,185.59 L745.40,186.92 L746.40,189.31 L747.40,189.84 L748.40,189.11 L749.40,188.66 L750.40,188.06 L751.40,188.08 L752.40,187.40 L753.40,186.83 L754.40,187.37 L755.40,188.26 L756.40,187.95 L757.40,188.62 L758.40,189.25 L759.40,189.37 L760.40,187.58 L761.40,186.39 L762.40,186.66 L763.40,186.81 L764.40,189.75 L765.40,191.17 L766.40,191.23 L767.40,190.88 L768.40,189.40 L769.40,190.74 L770.40,190.54 L771.40,190.08 L772.40,190.06 L773.40,189.80 L774.40,188.51 L775.40,187.46 L776.40,186.71 L777.40,187.58 L778.40,187.47 L779.40,187.87 L780.40,188.00 L781.40,188.98 L782.40,189.44 L783.40,189.39 L784.40,188.66 L785.40,189.45 L786.40,189.06 L787.40,187.67 L788.40,188.87 L789.40,187.57 L790.40,187.86 L791.40,188.77 L792.40,188.88 L793.40,189.32 L794.40,190.19 L795.40,190.93 L796.40,189.77 L797.40,190.37 L798.40,189.63 L799.40,189.69 L800.40,189.05 L801.40,188.39 L802.40,188.72 L803.40,188.25 L804.40,187.56 L805.40,187.47 L806.40,187.37 L807.40,187.69 L808.40,187.90 L809.40,187.50 L810.40,186.97 L811.40,187.37 L812.40,187.85 L813.40,188.16 L814.40,187.37 L815.40,188.02 L816.40,187.82 L817.40,187.13 L818.40,187.58 L819.40,187.94 L820.40,187.96 L821.40,187.86 L822.40,187.47 L823.40,187.49 L824.40,186.42 L825.40,185.60 L826.40,185.98 L827.40,184.94 L828.40,185.07 L829.40,183.91 L830.40,184.36 L831.40,182.69 L832.40,182.15 L833.40,182.44 L834.40,182.43 L835.40,180.89 L836.40,181.64 L837.40,181.48 L838.40,181.17 L839.40,180.85 L840.40,180.17 L841.40,180.67 L842.40,181.26 L843.40,182.08 L844.40,181.98 L845.40,181.93 L846.40,182.33 L847.40,181.40 L848.40,181.68 L849.40,180.14 L850.40,179.97 L851.40,178.27 L852.40,176.72 L853.40,175.88 L854.40,174.76 L855.40,175.01 L856.40,174.01 L857.40,173.96 L858.40,174.10 L859.40,173.36 L860.40,173.05 L861.40,173.65 L862.40,172.44 L863.40,172.28 L864.40,171.30 L865.40,170.49 L866.40,170.73 L867.40,169.74 L868.40,168.57 L869.40,169.85 L870.40,169.48 L871.40,168.66 L872.40,169.59 L873.40,168.97 L874.40,168.92 L875.40,168.94 L876.40,170.19 L877.40,169.85 L878.40,170.19 L879.40,170.54 L880.40,170.66 L881.40,170.42 L882.40,170.87 L883.40,170.81 L884.40,171.51 L885.40,170.62 L886.40,171.50 L887.40,171.81 L888.40,173.63 L889.40,176.08 L890.40,177.68 L891.40,177.94 L892.40,178.15 L893.40,177.99 L894.40,177.21 L895.40,177.59 L896.40,178.62 L897.40,177.85 L898.40,176.86 L899.40,177.97 L900.40,178.74 L901.40,178.91 L902.40,179.04 L903.40,179.85 L904.40,180.77 L905.40,181.03 L906.40,181.29 L907.40,182.30 L908.40,181.08 L909.40,181.13 L910.40,179.37 L911.40,179.23 L912.40,178.89 L913.40,180.03 L914.40,180.56 L915.40,181.83 L916.40,183.02 L917.40,184.56 L918.40,185.84 L919.40,186.09 L920.40,187.59 L921.40,188.25 L922.40,188.85 L923.40,190.05 L924.40,191.11 L925.40,189.83 L926.40,191.52 L927.40,192.13 L928.40,191.40 L929.40,191.92 L930.40,192.11 L931.40,191.99 L932.40,191.94 L933.40,192.45 L934.40,192.39 L935.40,191.93 L936.40,191.40 L937.40,189.43 L938.40,188.43 L939.40,187.65 L940.40,187.21 L941.40,186.62 L942.40,187.19 L943.40,186.56 L944.40,186.54 L945.40,185.51 L946.40,185.79 L947.40,185.75 L948.40,186.54 L949.40,188.33 L950.40,189.82 L951.40,189.78 L952.40,190.48 L953.40,190.18 L954.40,189.17 L955.40,188.57 L956.40,186.92 L957.40,186.25 L958.40,187.32 L959.40,187.70 L960.40,188.84 L961.40,189.72 L962.40,190.65 L963.40,190.68 L964.40,190.80 L965.40,190.31 L966.40,190.21 L967.40,190.22 L968.40,189.84 L969.40,189.47" stroke="#d80808"/>
<path d="M626.40,102.70 L627.40,101.61 L628.40,101.46 L629.40,100.31 L630.40,101.64 L631.40,101.45 L632.40,101.31 L633.40,101.72 L634.40,101.76 L635.40,100.98 L636.40,101.06 L637.40,101.26 L638.40,101.86 L639.40,101.79 L640.40,100.83 L641.40,100.94 L642.40,101.92 L643.40,102.38 L644.40,101.60 L645.40,101.31 L646.40,102.28 L647.40,101.62 L648.40,102.22 L649.40,102.71 L650.40,102.30 L651.40,102.08 L652.40,102.49 L653.40,101.84 L654.40,102.14 L655.40,101.98 L656.40,102.22 L657.40,102.11 L658.40,102.29 L659.40,102.20 L660.40,102.44 L661.40,102.39 L662.40,102.43 L663.40,102.89 L664.40,101.24 L665.40,102.56 L666.40,101.62 L667.40,100.96 L668.40,101.37 L669.40,101.39 L670.40,101.81 L671.40,100.66 L672.40,101.32 L673.40,101.34 L674.40,100.54 L675.40,100.97 L676.40,102.09 L677.40,102.33 L678.40,102.69 L679.40,102.53 L680.40,102.52 L681.40,102.43 L682.40,103.04 L683.40,102.02 L684.40,102.42 L685.40,102.72 L686.40,101.74 L687.40,103.25 L688.40,102.18 L689.40,102.56 L690.40,103.71 L691.40,102.13 L692.40,102.21 L693.40,103.19 L694.40,101.72 L695.40,101.93 L696.40,102.30 L697.40,102.17 L698.40,102.16 L699.40,102.00 L700.40,102.49 L701.40,102.33 L702.40,102.12 L703.40,101.48 L704.40,101.48 L705.40,100.89 L706.40,102.25 L707.40,100.98 L708.40,102.41 L709.40,102.93 L710.40,101.47 L711.40,101.69 L712.40,101.83 L713.40,102.53 L714.40,101.68 L715.40,102.08 L716.40,101.90 L717.40,102.05 L718.40,102.86 L719.40,101.70 L720.40,102.24 L721.40,102.33 L722.40,102.61 L723.40,101.50 L724.40,102.69 L725.40,102.30 L726.40,102.48 L727.40,102.02 L728.40,101.09 L729.40,101.55 L730.40,102.25 L731.40,101.80 L732.40,101.70 L733.40,102.60 L734.40,102.77 L735.40,101.57 L736.40,102.56 L737.40,100.51 L738.40,100.46 L739.40,101.95 L740.40,101.37 L741.40,101.81 L742.40,101.80 L743.40,101.52 L744.40,101.95 L745.40,101.72 L746.40,100.90 L747.40,101.86 L748.40,101.90 L749.40,102.81 L750.40,101.34 L751.40,101.99 L752.40,101.82 L753.40,102.03 L754.40,103.00 L755.40,102.39 L756.40,101.99 L757.40,102.34 L758.40,102.68 L759.40,101.79 L760.40,102.16 L761.40,103.08 L762.40,102.71 L763.40,102.22 L764.40,101.97 L765.40,102.10 L766.40,101.33 L767.40,102.57 L768.40,102.21 L769.40,102.05 L770.40,101.26 L771.40,101.51 L772.40,102.09 L773.40,101.91 L774.40,101.48 L775.40,101.95 L776.40,102.14 L777.40,101.28 L778.40,101.34 L779.40,101.15 L780.40,101.01 L781.40,102.02 L782.40,101.89 L783.40,101.84 L784.40,101.10 L785.40,101.20 L786.40,101.76 L787.40,101.63 L788.40,101.97 L789.40,101.60 L790.40,102.36 L791.40,103.01 L792.40,102.94 L793.40,103.03 L794.40,102.28 L795.40,102.77 L796.40,102.14 L797.40,102.84 L798.40,102.19 L799.40,102.15 L800.40,102.07 L801.40,102.75 L802.40,102.52 L803.40,102.45 L804.40,101.74 L805.40,102.37 L806.40,101.51 L807.40,102.97 L808.40,102.10 L809.40,102.23 L810.40,102.03 L811.40,101.22 L812.40,101.29 L813.40,101.94 L814.40,102.68 L815.40,101.31 L816.40,101.49 L817.40,101.80 L818.40,100.94 L819.40,100.93 L820.40,101.59 L821.40,101.78 L822.40,101.60 L823.40,102.59 L824.40,101.72 L825.40,102.00 L826.40,102.64 L827.40,102.70 L828.40,101.00 L829.40,101.63 L830.40,102.43 L831.40,101.13 L832.40,101.37 L833.40,101.18 L834.40,101.16 L835.40,101.28 L836.40,101.96 L837.40,102.53 L838.40,102.67 L839.40,101.90 L840.40,100.89 L841.40,101.88 L842.40,101.75 L843.40,102.12 L844.40,101.89 L845.40,101.05 L846.40,102.21 L847.40,100.95 L848.40,101.68 L849.40,102.22 L850.40,102.26 L851.40,102.91 L852.40,100.90 L853.40,102.31 L854.40,102.51 L855.40,102.00 L856.40,102.51 L857.40,101.62 L858.40,102.53 L859.40,102.48 L860.40,101.69 L861.40,101.85 L862.40,102.09 L863.40,101.83 L864.40,102.69 L865.40,102.22 L866.40,102.78 L867.40,102.68 L868.40,102.08 L869.40,101.92 L870.40,101.50 L871.40,101.54 L872.40,101.52 L873.40,102.08 L874.40,101.42 L875.40,101.89 L876.40,101.93 L877.40,101.56 L878.40,101.71 L879.40,102.55 L880.40,102.63 L881.40,101.41 L882.40,101.72 L883.40,101.65 L884.40,101.73 L885.40,102.70 L886.40,102.30 L887.40,102.63 L888.40,102.94 L889.40,101.85 L890.40,102.02 L891.40,102.18 L892.40,102.73 L893.40,102.20 L894.40,102.62 L895.40,102.92 L896.40,102.95 L897.40,102.60 L898.40,101.98 L899.40,101.60 L900.40,102.98 L901.40,102.63 L902.40,101.90 L903.40,102.10 L904.40,102.11 L905.40,101.45 L906.40,102.41 L907.40,101.84 L908.40,102.06 L909.40,102.55 L910.40,102.09 L911.40,102.38 L912.40,102.28 L913.40,102.04 L914.40,102.02 L915.40,102.93 L916.40,101.85 L917.40,102.76 L918.40,101.44 L919.40,102.28 L920.40,101.99 L921.40,101.53 L922.40,100.56 L923.40,102.77 L924.40,101.38 L925.40,101.51 L926.40,102.11 L927.40,102.12 L928.40,102.27 L929.40,102.04 L930.40,101.45 L931.40,102.71 L932.40,101.84 L933.40,102.46 L934.40,102.68 L935.40,103.03 L936.40,102.34 L937.40,102.31 L938.40,102.37 L939.40,101.55 L940.40,102.11 L941.40,101.98 L942.40,101.90 L943.40,102.56 L944.40,102.30 L945.40,103.27 L946.40,103.19 L947.40,101.44 L948.40,102.45 L949.40,101.85 L950.40,102.63 L951.40,102.40 L952.40,102.78 L953.40,102.44 L954.40,102.65 L955.40,102.09 L956.40,100.93 L957.40,101.60 L958.40,101.77 L959.40,101.95 L960.40,101.68 L961.40,103.05 L962.40,102.13 L963.40,102.90 L964.40,102.08 L965.40,103.12 L966.40,101.68 L967.40,102.63 L968.40,101.67 L969.40,102.61" stroke="#0000c4"/>
</g>
<rect x="838.6" y="58.9" width="80" height="230.4" fill="none" stroke="#000" stroke-width="1.9" stroke-dasharray="9.1 8.6"/>
<g stroke="#000" stroke-width="2.1" fill="none">
<rect x="625.4" y="29" width="345.4" height="277.4"/>
<line x1="659.94" y1="306" x2="659.94" y2="302.5"/>
<line x1="694.48" y1="306" x2="694.48" y2="300.0"/>
<line x1="729.02" y1="306" x2="729.02" y2="302.5"/>
<line x1="763.56" y1="306" x2="763.56" y2="300.0"/>
<line x1="798.10" y1="306" x2="798.10" y2="302.5"/>
<line x1="832.64" y1="306" x2="832.64" y2="300.0"/>
<line x1="867.18" y1="306" x2="867.18" y2="302.5"/>
<line x1="901.72" y1="306" x2="901.72" y2="300.0"/>
<line x1="936.26" y1="306" x2="936.26" y2="302.5"/>
</g>
<g id="t500" transform="matrix(1.05263,0,0,0.99231,-10.889,5.708)"><text x="195.39" y="767.6" font-size="36" text-anchor="middle">500</text></g>
<g id="t1000" transform="matrix(1.04342,0,0,0.99231,-16.195,5.708)"><text x="357.71" y="767.6" font-size="36" text-anchor="middle">1000</text></g>
<g id="t1500" transform="matrix(1.02857,0,0,0.99231,-15.371,5.708)"><text x="520.04" y="767.6" font-size="36" text-anchor="middle">1500</text></g>
<g id="t2000" transform="matrix(1.06104,0,0,0.99231,-42.509,5.708)"><text x="682.36" y="767.6" font-size="36" text-anchor="middle">2000</text></g>
<g id="t2500" transform="matrix(1.04416,0,0,0.99231,-37.990,5.708)"><text x="844.68" y="767.6" font-size="36" text-anchor="middle">2500</text></g>
<g id="t3000" transform="matrix(1.01538,0,0,0.99231,-15.892,5.708)"><text x="1007.00" y="767.6" font-size="36" text-anchor="middle">3000</text></g>
<g id="xtitle" transform="matrix(1.03157,0,0,0.98654,-11.659,10.685)"><text x="302" y="856" font-size="56">Raman Shift (cm</text></g>
<g id="xsup" transform="matrix(0.83704,0,0,1.03182,124.600,-26.218)"><text x="755" y="824" font-size="32">-1</text></g>
<g id="xpar" transform="matrix(0.96875,0,0,0.98077,26.031,15.692)"><text x="785" y="856" font-size="56">)</text></g>
<g id="ytitle" transform="matrix(1.00741,0,0,1.00947,-1.430,-0.860)"><text transform="translate(45.5,517) rotate(-90)" font-size="57">Intensity (a.u.)</text></g>
<g id="B" transform="matrix(1.08462,0,0,1.03103,-11.408,-6.500)"><text x="120" y="202.8" font-size="43">B</text></g>
<g id="Bs" transform="matrix(1.03077,0,0,0.92609,-5.538,12.000)"><text x="152" y="225" font-size="25">1g</text></g>
<g id="A" transform="matrix(1.01724,0,0,1.06897,-2.328,-10.483)"><text x="163" y="152" font-size="43">A</text></g>
<g id="As" transform="matrix(1.03846,0,0,0.92174,-8.654,8.587)"><text x="197" y="174.5" font-size="25">1g</text></g>
<g id="E" transform="matrix(1.02500,0,0,1.04483,-7.100,-4.086)"><text x="229" y="79.5" font-size="43">E</text></g>
<g id="Es" transform="matrix(1.07692,0,0,0.91053,-19.846,9.037)"><text x="257" y="96" font-size="25">g</text></g>
<g id="PTF" transform="matrix(1.02078,0,0,1.05862,-7.062,-21.055)"><text x="308" y="366.4" font-size="43">PTF</text></g>
<g id="GTF" transform="matrix(1.01379,0,0,1.10345,-3.893,-54.438)"><text x="273" y="533.4" font-size="43">2%GTF</text></g>
<g id="GO" transform="matrix(1.03016,0,0,1.10000,-8.767,-66.700)"><text x="292" y="671" font-size="43">GO</text></g>
<g id="D" transform="matrix(1.04231,0,0,1.04483,-19.862,-20.621)"><text x="457" y="460" font-size="43">D</text></g>
<g id="G" transform="matrix(1.03448,0,0,1.12414,-18.617,-48.483)"><text x="535" y="397" font-size="43">G</text></g>
<g id="v589" transform="matrix(1.02981,0,0,1.01034,-18.544,-6.207)"><text x="600" y="570.7" font-size="43">0.589</text></g>
<g id="v770" transform="matrix(1.02500,0,0,1.02759,-14.050,-17.828)"><text x="600" y="668.4" font-size="43">0.770</text></g>
<g id="twoD" transform="matrix(1.04510,0,0,1.06897,-40.218,-39.148)"><text x="892" y="572.3" font-size="43">2D</text></g>
<g id="I1" transform="matrix(1.15000,0,0,1.01290,-90.850,-6.568)"><text x="608" y="477.6" font-size="44" font-style="italic">I</text></g>
<g id="Dsub" transform="matrix(1.14375,0,0,0.97647,-87.425,11.847)"><text x="619" y="495.2" font-size="24" font-style="italic">D</text></g>
<g id="slash" transform="matrix(1.19412,0,0,0.95758,-117.876,18.921)"><text x="634" y="477.6" font-size="44" font-style="italic">/</text></g>
<g id="I2" transform="matrix(1.15000,0,0,1.01290,-97.900,-6.568)"><text x="663" y="477.6" font-size="44" font-style="italic">I</text></g>
<g id="Gsub" transform="matrix(1.11765,0,0,1.14706,-78.047,-73.241)"><text x="676" y="495.5" font-size="24" font-style="italic">G</text></g>
<g id="it2000" transform="matrix(1.08182,0,0,1.04286,-50.736,-13.857)"><text x="625.40" y="328.3" font-size="20.5" text-anchor="middle">2000</text></g>
<g id="it2200" transform="matrix(1.05778,0,0,1.04286,-40.147,-13.857)"><text x="694.48" y="328.3" font-size="20.5" text-anchor="middle">2200</text></g>
<g id="it2400" transform="matrix(1.05778,0,0,1.04286,-44.053,-13.857)"><text x="763.56" y="328.3" font-size="20.5" text-anchor="middle">2400</text></g>
<g id="it2600" transform="matrix(1.05778,0,0,1.04286,-47.960,-13.857)"><text x="832.64" y="328.3" font-size="20.5" text-anchor="middle">2600</text></g>
<g id="it2800" transform="matrix(1.08182,0,0,1.04286,-74.080,-13.857)"><text x="901.72" y="328.3" font-size="20.5" text-anchor="middle">2800</text></g>
<g id="it3000" transform="matrix(1.08182,0,0,1.04286,-79.645,-13.857)"><text x="970.80" y="328.3" font-size="20.5" text-anchor="middle">3000</text></g>
<g id="ixtitle" transform="matrix(1.10942,0,0,1.05556,-78.388,-19.789)"><text x="708.5" y="367.4" font-size="24">Raman Shift</text></g>
<g id="ixp1" transform="matrix(1.05000,0,0,0.95000,-43.550,18.900)"><text x="870" y="367.4" font-size="15">(</text></g>
<g id="ixcm" transform="matrix(1.11875,0,0,1.03077,-103.625,-10.892)"><text x="875" y="367.4" font-size="24">cm</text></g>
<g id="ixsup" transform="matrix(1.00833,0,0,1.06000,-7.725,-21.020)"><text x="914" y="352" font-size="15">-1</text></g>
<g id="ixp2" transform="matrix(1.02500,0,0,0.97143,-22.200,11.271)"><text x="928" y="367.4" font-size="15">)</text></g>
<g id="iytitle" transform="matrix(1.03077,0,0,0.98235,-19.438,5.800)"><text transform="translate(603,239.7) rotate(-90)" font-size="28">Intensity (a.u.)</text></g>
<g id="iPTF" transform="matrix(1.10500,0,0,1.08667,-71.045,-6.560)"><text x="667" y="78.2" font-size="22.5">PTF</text></g>
<g id="iGTF" transform="matrix(1.08816,0,0,1.08000,-56.691,-13.600)"><text x="650.5" y="164.6" font-size="22.5">2%GTF</text></g>
<g id="iGO" transform="matrix(1.11515,0,0,0.97333,-77.012,6.213)"><text x="673" y="247.6" font-size="22.5">GO</text></g>
<g id="i2D" transform="matrix(1.10370,0,0,0.97333,-89.400,3.573)"><text x="863" y="148.6" font-size="22.5">2D</text></g>
</svg>
</body></html>
